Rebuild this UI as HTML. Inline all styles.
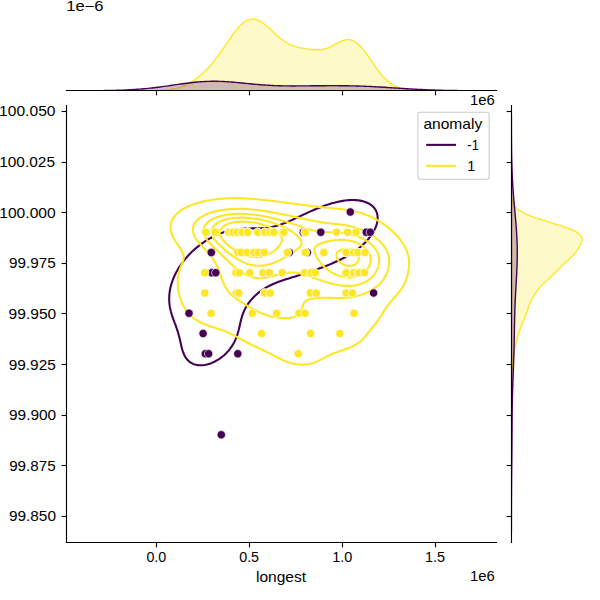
<!DOCTYPE html><html><head><meta charset="utf-8"><style>html,body{margin:0;padding:0;background:#fff;width:600px;height:600px;overflow:hidden}svg{display:block}text{font-family:"Liberation Sans",sans-serif;fill:#000}</style></head><body>
<svg width="600" height="600" viewBox="0 0 600 600">
<rect width="600" height="600" fill="#fff"/>
<clipPath id="cx"><rect x="66.28" y="15.00" width="429.80" height="75.25"/></clipPath>
<g clip-path="url(#cx)">
<path transform="translate(0.5 0.5)" d="M148.84 90.17L148.84 90.25L150.21 90.25L151.58 90.25L152.94 90.25L154.31 90.25L155.68 90.25L157.05 90.25L158.41 90.25L159.78 90.25L161.15 90.25L162.52 90.25L163.88 90.25L165.25 90.25L166.62 90.25L167.99 90.25L169.35 90.25L170.72 90.25L172.09 90.25L173.46 90.25L174.82 90.25L176.19 90.25L177.56 90.25L178.93 90.25L180.29 90.25L181.66 90.25L183.03 90.25L184.40 90.25L185.76 90.25L187.13 90.25L188.50 90.25L189.86 90.25L191.23 90.25L192.60 90.25L193.97 90.25L195.33 90.25L196.70 90.25L198.07 90.25L199.44 90.25L200.80 90.25L202.17 90.25L203.54 90.25L204.91 90.25L206.27 90.25L207.64 90.25L209.01 90.25L210.38 90.25L211.74 90.25L213.11 90.25L214.48 90.25L215.85 90.25L217.21 90.25L218.58 90.25L219.95 90.25L221.32 90.25L222.68 90.25L224.05 90.25L225.42 90.25L226.78 90.25L228.15 90.25L229.52 90.25L230.89 90.25L232.25 90.25L233.62 90.25L234.99 90.25L236.36 90.25L237.72 90.25L239.09 90.25L240.46 90.25L241.83 90.25L243.19 90.25L244.56 90.25L245.93 90.25L247.30 90.25L248.66 90.25L250.03 90.25L251.40 90.25L252.77 90.25L254.13 90.25L255.50 90.25L256.87 90.25L258.24 90.25L259.60 90.25L260.97 90.25L262.34 90.25L263.71 90.25L265.07 90.25L266.44 90.25L267.81 90.25L269.17 90.25L270.54 90.25L271.91 90.25L273.28 90.25L274.64 90.25L276.01 90.25L277.38 90.25L278.75 90.25L280.11 90.25L281.48 90.25L282.85 90.25L284.22 90.25L285.58 90.25L286.95 90.25L288.32 90.25L289.69 90.25L291.05 90.25L292.42 90.25L293.79 90.25L295.16 90.25L296.52 90.25L297.89 90.25L299.26 90.25L300.63 90.25L301.99 90.25L303.36 90.25L304.73 90.25L306.09 90.25L307.46 90.25L308.83 90.25L310.20 90.25L311.56 90.25L312.93 90.25L314.30 90.25L315.67 90.25L317.03 90.25L318.40 90.25L319.77 90.25L321.14 90.25L322.50 90.25L323.87 90.25L325.24 90.25L326.61 90.25L327.97 90.25L329.34 90.25L330.71 90.25L332.08 90.25L333.44 90.25L334.81 90.25L336.18 90.25L337.55 90.25L338.91 90.25L340.28 90.25L341.65 90.25L343.02 90.25L344.38 90.25L345.75 90.25L347.12 90.25L348.48 90.25L349.85 90.25L351.22 90.25L352.59 90.25L353.95 90.25L355.32 90.25L356.69 90.25L358.06 90.25L359.42 90.25L360.79 90.25L362.16 90.25L363.53 90.25L364.89 90.25L366.26 90.25L367.63 90.25L369.00 90.25L370.36 90.25L371.73 90.25L373.10 90.25L374.47 90.25L375.83 90.25L377.20 90.25L378.57 90.25L379.94 90.25L381.30 90.25L382.67 90.25L384.04 90.25L385.40 90.25L386.77 90.25L388.14 90.25L389.51 90.25L390.87 90.25L392.24 90.25L393.61 90.25L394.98 90.25L396.34 90.25L397.71 90.25L399.08 90.25L400.45 90.25L401.81 90.25L403.18 90.25L404.55 90.25L405.92 90.25L407.28 90.25L408.65 90.25L410.02 90.25L411.39 90.25L412.75 90.25L414.12 90.25L415.49 90.25L416.86 90.25L418.22 90.25L419.59 90.25L420.96 90.25L420.96 90.13L420.96 90.13L419.59 90.10L418.22 90.06L416.86 90.02L415.49 89.96L414.12 89.89L412.75 89.81L411.39 89.71L410.02 89.59L408.65 89.44L407.28 89.27L405.92 89.07L404.55 88.83L403.18 88.55L401.81 88.23L400.45 87.86L399.08 87.43L397.71 86.95L396.34 86.39L394.98 85.76L393.61 85.06L392.24 84.27L390.87 83.40L389.51 82.43L388.14 81.37L386.77 80.21L385.40 78.96L384.04 77.60L382.67 76.15L381.30 74.60L379.94 72.96L378.57 71.24L377.20 69.44L375.83 67.58L374.47 65.66L373.10 63.69L371.73 61.70L370.36 59.69L369.00 57.69L367.63 55.71L366.26 53.77L364.89 51.89L363.53 50.09L362.16 48.38L360.79 46.78L359.42 45.30L358.06 43.97L356.69 42.78L355.32 41.76L353.95 40.90L352.59 40.21L351.22 39.70L349.85 39.35L348.48 39.17L347.12 39.15L345.75 39.27L344.38 39.52L343.02 39.90L341.65 40.38L340.28 40.95L338.91 41.58L337.55 42.27L336.18 42.99L334.81 43.72L333.44 44.45L332.08 45.15L330.71 45.83L329.34 46.47L327.97 47.05L326.61 47.56L325.24 48.02L323.87 48.40L322.50 48.71L321.14 48.96L319.77 49.14L318.40 49.25L317.03 49.31L315.67 49.31L314.30 49.27L312.93 49.19L311.56 49.08L310.20 48.94L308.83 48.77L307.46 48.59L306.09 48.39L304.73 48.17L303.36 47.94L301.99 47.69L300.63 47.43L299.26 47.13L297.89 46.81L296.52 46.46L295.16 46.07L293.79 45.64L292.42 45.15L291.05 44.61L289.69 44.02L288.32 43.36L286.95 42.63L285.58 41.83L284.22 40.96L282.85 40.03L281.48 39.03L280.11 37.97L278.75 36.85L277.38 35.68L276.01 34.47L274.64 33.22L273.28 31.96L271.91 30.68L270.54 29.40L269.17 28.13L267.81 26.89L266.44 25.69L265.07 24.54L263.71 23.45L262.34 22.45L260.97 21.53L259.60 20.72L258.24 20.03L256.87 19.46L255.50 19.02L254.13 18.73L252.77 18.58L251.40 18.59L250.03 18.76L248.66 19.09L247.30 19.58L245.93 20.23L244.56 21.03L243.19 21.99L241.83 23.10L240.46 24.34L239.09 25.72L237.72 27.21L236.36 28.82L234.99 30.52L233.62 32.31L232.25 34.17L230.89 36.09L229.52 38.05L228.15 40.05L226.78 42.07L225.42 44.09L224.05 46.11L222.68 48.12L221.32 50.10L219.95 52.06L218.58 53.98L217.21 55.85L215.85 57.68L214.48 59.45L213.11 61.17L211.74 62.84L210.38 64.44L209.01 65.99L207.64 67.48L206.27 68.92L204.91 70.30L203.54 71.62L202.17 72.89L200.80 74.10L199.44 75.26L198.07 76.37L196.70 77.43L195.33 78.43L193.97 79.39L192.60 80.30L191.23 81.16L189.86 81.97L188.50 82.74L187.13 83.45L185.76 84.12L184.40 84.74L183.03 85.32L181.66 85.86L180.29 86.35L178.93 86.80L177.56 87.21L176.19 87.59L174.82 87.92L173.46 88.23L172.09 88.50L170.72 88.74L169.35 88.96L167.99 89.15L166.62 89.31L165.25 89.46L163.88 89.58L162.52 89.69L161.15 89.78L159.78 89.86L158.41 89.93L157.05 89.99L155.68 90.03L154.31 90.07L152.94 90.11L151.58 90.13L150.21 90.16L148.84 90.17Z" fill="#fde725" fill-opacity="0.250" stroke="#fde725" stroke-width="1.39" stroke-linejoin="round"/>
<path transform="translate(0.5 0.5)" d="M77.88 90.22L77.88 90.25L79.92 90.25L81.97 90.25L84.01 90.25L86.05 90.25L88.10 90.25L90.14 90.25L92.19 90.25L94.23 90.25L96.28 90.25L98.32 90.25L100.37 90.25L102.41 90.25L104.46 90.25L106.50 90.25L108.54 90.25L110.59 90.25L112.63 90.25L114.68 90.25L116.72 90.25L118.77 90.25L120.81 90.25L122.86 90.25L124.90 90.25L126.94 90.25L128.99 90.25L131.03 90.25L133.08 90.25L135.12 90.25L137.17 90.25L139.21 90.25L141.26 90.25L143.30 90.25L145.34 90.25L147.39 90.25L149.43 90.25L151.48 90.25L153.52 90.25L155.57 90.25L157.61 90.25L159.66 90.25L161.70 90.25L163.74 90.25L165.79 90.25L167.83 90.25L169.88 90.25L171.92 90.25L173.97 90.25L176.01 90.25L178.06 90.25L180.10 90.25L182.14 90.25L184.19 90.25L186.23 90.25L188.28 90.25L190.32 90.25L192.37 90.25L194.41 90.25L196.46 90.25L198.50 90.25L200.54 90.25L202.59 90.25L204.63 90.25L206.68 90.25L208.72 90.25L210.77 90.25L212.81 90.25L214.86 90.25L216.90 90.25L218.94 90.25L220.99 90.25L223.03 90.25L225.08 90.25L227.12 90.25L229.17 90.25L231.21 90.25L233.26 90.25L235.30 90.25L237.34 90.25L239.39 90.25L241.43 90.25L243.48 90.25L245.52 90.25L247.57 90.25L249.61 90.25L251.66 90.25L253.70 90.25L255.74 90.25L257.79 90.25L259.83 90.25L261.88 90.25L263.92 90.25L265.97 90.25L268.01 90.25L270.06 90.25L272.10 90.25L274.14 90.25L276.19 90.25L278.23 90.25L280.28 90.25L282.32 90.25L284.37 90.25L286.41 90.25L288.46 90.25L290.50 90.25L292.54 90.25L294.59 90.25L296.63 90.25L298.68 90.25L300.72 90.25L302.77 90.25L304.81 90.25L306.86 90.25L308.90 90.25L310.94 90.25L312.99 90.25L315.03 90.25L317.08 90.25L319.12 90.25L321.17 90.25L323.21 90.25L325.26 90.25L327.30 90.25L329.34 90.25L331.39 90.25L333.43 90.25L335.48 90.25L337.52 90.25L339.57 90.25L341.61 90.25L343.66 90.25L345.70 90.25L347.74 90.25L349.79 90.25L351.83 90.25L353.88 90.25L355.92 90.25L357.97 90.25L360.01 90.25L362.06 90.25L364.10 90.25L366.14 90.25L368.19 90.25L370.23 90.25L372.28 90.25L374.32 90.25L376.37 90.25L378.41 90.25L380.46 90.25L382.50 90.25L384.54 90.25L386.59 90.25L388.63 90.25L390.68 90.25L392.72 90.25L394.77 90.25L396.81 90.25L398.86 90.25L400.90 90.25L402.94 90.25L404.99 90.25L407.03 90.25L409.08 90.25L411.12 90.25L413.17 90.25L415.21 90.25L417.26 90.25L419.30 90.25L421.34 90.25L423.39 90.25L425.43 90.25L427.48 90.25L429.52 90.25L431.57 90.25L433.61 90.25L435.66 90.25L437.70 90.25L439.74 90.25L441.79 90.25L443.83 90.25L445.88 90.25L447.92 90.25L449.97 90.25L452.01 90.25L454.06 90.25L456.10 90.25L458.14 90.25L460.19 90.25L462.23 90.25L464.28 90.25L466.32 90.25L468.37 90.25L470.41 90.25L472.46 90.25L474.50 90.25L476.55 90.25L478.59 90.25L480.63 90.25L482.68 90.25L484.72 90.25L484.72 90.22L484.72 90.22L482.68 90.22L480.63 90.21L478.59 90.21L476.55 90.20L474.50 90.19L472.46 90.18L470.41 90.17L468.37 90.16L466.32 90.15L464.28 90.13L462.23 90.11L460.19 90.09L458.14 90.07L456.10 90.05L454.06 90.02L452.01 89.99L449.97 89.96L447.92 89.92L445.88 89.88L443.83 89.84L441.79 89.79L439.74 89.74L437.70 89.68L435.66 89.62L433.61 89.55L431.57 89.48L429.52 89.40L427.48 89.32L425.43 89.24L423.39 89.15L421.34 89.05L419.30 88.95L417.26 88.84L415.21 88.74L413.17 88.62L411.12 88.50L409.08 88.38L407.03 88.26L404.99 88.13L402.94 88.00L400.90 87.87L398.86 87.74L396.81 87.60L394.77 87.47L392.72 87.33L390.68 87.20L388.63 87.07L386.59 86.94L384.54 86.81L382.50 86.69L380.46 86.56L378.41 86.44L376.37 86.33L374.32 86.22L372.28 86.12L370.23 86.02L368.19 85.92L366.14 85.83L364.10 85.75L362.06 85.67L360.01 85.60L357.97 85.54L355.92 85.48L353.88 85.42L351.83 85.37L349.79 85.33L347.74 85.29L345.70 85.26L343.66 85.23L341.61 85.21L339.57 85.20L337.52 85.18L335.48 85.17L333.43 85.17L331.39 85.17L329.34 85.17L327.30 85.18L325.26 85.19L323.21 85.20L321.17 85.21L319.12 85.23L317.08 85.25L315.03 85.27L312.99 85.29L310.94 85.31L308.90 85.33L306.86 85.35L304.81 85.37L302.77 85.39L300.72 85.41L298.68 85.42L296.63 85.43L294.59 85.43L292.54 85.43L290.50 85.43L288.46 85.42L286.41 85.40L284.37 85.37L282.32 85.33L280.28 85.29L278.23 85.23L276.19 85.16L274.14 85.08L272.10 85.00L270.06 84.89L268.01 84.78L265.97 84.66L263.92 84.52L261.88 84.37L259.83 84.22L257.79 84.05L255.74 83.87L253.70 83.69L251.66 83.50L249.61 83.30L247.57 83.10L245.52 82.89L243.48 82.69L241.43 82.49L239.39 82.29L237.34 82.09L235.30 81.90L233.26 81.72L231.21 81.55L229.17 81.39L227.12 81.25L225.08 81.12L223.03 81.01L220.99 80.92L218.94 80.85L216.90 80.80L214.86 80.77L212.81 80.77L210.77 80.78L208.72 80.83L206.68 80.89L204.63 80.98L202.59 81.09L200.54 81.22L198.50 81.38L196.46 81.56L194.41 81.75L192.37 81.96L190.32 82.19L188.28 82.44L186.23 82.70L184.19 82.97L182.14 83.24L180.10 83.53L178.06 83.82L176.01 84.12L173.97 84.42L171.92 84.72L169.88 85.02L167.83 85.32L165.79 85.61L163.74 85.90L161.70 86.18L159.66 86.45L157.61 86.72L155.57 86.97L153.52 87.22L151.48 87.46L149.43 87.68L147.39 87.89L145.34 88.09L143.30 88.28L141.26 88.46L139.21 88.63L137.17 88.78L135.12 88.93L133.08 89.06L131.03 89.18L128.99 89.29L126.94 89.40L124.90 89.49L122.86 89.58L120.81 89.65L118.77 89.72L116.72 89.79L114.68 89.84L112.63 89.89L110.59 89.94L108.54 89.98L106.50 90.01L104.46 90.05L102.41 90.07L100.37 90.10L98.32 90.12L96.28 90.14L94.23 90.15L92.19 90.17L90.14 90.18L88.10 90.19L86.05 90.20L84.01 90.21L81.97 90.21L79.92 90.22L77.88 90.22Z" fill="#440154" fill-opacity="0.250" stroke="#440154" stroke-width="1.39" stroke-linejoin="round"/>
</g>
<clipPath id="cy"><rect x="510.90" y="105.30" width="74.10" height="436.43"/></clipPath>
<g clip-path="url(#cy)">
<path transform="translate(0.5 0.5)" d="M510.91 387.70L510.90 387.70L510.90 386.75L510.90 385.80L510.90 384.84L510.90 383.89L510.90 382.94L510.90 381.99L510.90 381.04L510.90 380.09L510.90 379.13L510.90 378.18L510.90 377.23L510.90 376.28L510.90 375.33L510.90 374.38L510.90 373.42L510.90 372.47L510.90 371.52L510.90 370.57L510.90 369.62L510.90 368.66L510.90 367.71L510.90 366.76L510.90 365.81L510.90 364.86L510.90 363.91L510.90 362.95L510.90 362.00L510.90 361.05L510.90 360.10L510.90 359.15L510.90 358.20L510.90 357.24L510.90 356.29L510.90 355.34L510.90 354.39L510.90 353.44L510.90 352.48L510.90 351.53L510.90 350.58L510.90 349.63L510.90 348.68L510.90 347.73L510.90 346.77L510.90 345.82L510.90 344.87L510.90 343.92L510.90 342.97L510.90 342.02L510.90 341.06L510.90 340.11L510.90 339.16L510.90 338.21L510.90 337.26L510.90 336.30L510.90 335.35L510.90 334.40L510.90 333.45L510.90 332.50L510.90 331.55L510.90 330.59L510.90 329.64L510.90 328.69L510.90 327.74L510.90 326.79L510.90 325.84L510.90 324.88L510.90 323.93L510.90 322.98L510.90 322.03L510.90 321.08L510.90 320.13L510.90 319.17L510.90 318.22L510.90 317.27L510.90 316.32L510.90 315.37L510.90 314.41L510.90 313.46L510.90 312.51L510.90 311.56L510.90 310.61L510.90 309.66L510.90 308.70L510.90 307.75L510.90 306.80L510.90 305.85L510.90 304.90L510.90 303.95L510.90 302.99L510.90 302.04L510.90 301.09L510.90 300.14L510.90 299.19L510.90 298.23L510.90 297.28L510.90 296.33L510.90 295.38L510.90 294.43L510.90 293.48L510.90 292.52L510.90 291.57L510.90 290.62L510.90 289.67L510.90 288.72L510.90 287.77L510.90 286.81L510.90 285.86L510.90 284.91L510.90 283.96L510.90 283.01L510.90 282.05L510.90 281.10L510.90 280.15L510.90 279.20L510.90 278.25L510.90 277.30L510.90 276.34L510.90 275.39L510.90 274.44L510.90 273.49L510.90 272.54L510.90 271.59L510.90 270.63L510.90 269.68L510.90 268.73L510.90 267.78L510.90 266.83L510.90 265.87L510.90 264.92L510.90 263.97L510.90 263.02L510.90 262.07L510.90 261.12L510.90 260.16L510.90 259.21L510.90 258.26L510.90 257.31L510.90 256.36L510.90 255.41L510.90 254.45L510.90 253.50L510.90 252.55L510.90 251.60L510.90 250.65L510.90 249.70L510.90 248.74L510.90 247.79L510.90 246.84L510.90 245.89L510.90 244.94L510.90 243.98L510.90 243.03L510.90 242.08L510.90 241.13L510.90 240.18L510.90 239.23L510.90 238.27L510.90 237.32L510.90 236.37L510.90 235.42L510.90 234.47L510.90 233.52L510.90 232.56L510.90 231.61L510.90 230.66L510.90 229.71L510.90 228.76L510.90 227.80L510.90 226.85L510.90 225.90L510.90 224.95L510.90 224.00L510.90 223.05L510.90 222.09L510.90 221.14L510.90 220.19L510.90 219.24L510.90 218.29L510.90 217.34L510.90 216.38L510.90 215.43L510.90 214.48L510.90 213.53L510.90 212.58L510.90 211.62L510.90 210.67L510.90 209.72L510.90 208.77L510.90 207.82L510.90 206.87L510.90 205.91L510.90 204.96L510.90 204.01L510.90 203.06L510.90 202.11L510.90 201.16L510.90 200.20L510.90 199.25L510.90 198.30L511.53 198.30L511.53 198.30L511.71 199.25L511.93 200.20L512.20 201.16L512.54 202.11L512.94 203.06L513.43 204.01L514.01 204.96L514.70 205.91L515.51 206.87L516.44 207.82L517.53 208.77L518.77 209.72L520.18 210.67L521.77 211.62L523.54 212.58L525.49 213.53L527.63 214.48L529.96 215.43L532.46 216.38L535.12 217.34L537.93 218.29L540.87 219.24L543.91 220.19L547.01 221.14L550.16 222.09L553.30 223.05L556.42 224.00L559.46 224.95L562.39 225.90L565.19 226.85L567.81 227.80L570.23 228.76L572.43 229.71L574.39 230.66L576.10 231.61L577.56 232.56L578.77 233.52L579.73 234.47L580.46 235.42L580.98 236.37L581.31 237.32L581.46 238.27L581.47 239.23L581.36 240.18L581.14 241.13L580.84 242.08L580.48 243.03L580.06 243.98L579.60 244.94L579.11 245.89L578.58 246.84L578.03 247.79L577.43 248.74L576.80 249.70L576.13 250.65L575.41 251.60L574.65 252.55L573.84 253.50L572.98 254.45L572.07 255.41L571.12 256.36L570.14 257.31L569.13 258.26L568.10 259.21L567.05 260.16L566.01 261.12L564.96 262.07L563.93 263.02L562.92 263.97L561.92 264.92L560.94 265.87L559.98 266.83L559.03 267.78L558.10 268.73L557.17 269.68L556.24 270.63L555.30 271.59L554.36 272.54L553.39 273.49L552.42 274.44L551.42 275.39L550.41 276.34L549.39 277.30L548.35 278.25L547.31 279.20L546.27 280.15L545.23 281.10L544.21 282.05L543.21 283.01L542.23 283.96L541.29 284.91L540.37 285.86L539.50 286.81L538.66 287.77L537.86 288.72L537.10 289.67L536.38 290.62L535.69 291.57L535.03 292.52L534.41 293.48L533.81 294.43L533.23 295.38L532.68 296.33L532.16 297.28L531.65 298.23L531.16 299.19L530.70 300.14L530.26 301.09L529.83 302.04L529.42 302.99L529.04 303.95L528.67 304.90L528.31 305.85L527.97 306.80L527.63 307.75L527.30 308.70L526.98 309.66L526.66 310.61L526.33 311.56L526.00 312.51L525.66 313.46L525.31 314.41L524.95 315.37L524.59 316.32L524.21 317.27L523.82 318.22L523.43 319.17L523.03 320.13L522.62 321.08L522.22 322.03L521.82 322.98L521.43 323.93L521.04 324.88L520.66 325.84L520.29 326.79L519.93 327.74L519.59 328.69L519.25 329.64L518.93 330.59L518.62 331.55L518.32 332.50L518.03 333.45L517.74 334.40L517.47 335.35L517.20 336.30L516.93 337.26L516.67 338.21L516.42 339.16L516.17 340.11L515.93 341.06L515.69 342.02L515.46 342.97L515.24 343.92L515.03 344.87L514.82 345.82L514.62 346.77L514.43 347.73L514.24 348.68L514.07 349.63L513.90 350.58L513.73 351.53L513.58 352.48L513.43 353.44L513.28 354.39L513.15 355.34L513.01 356.29L512.88 357.24L512.75 358.20L512.62 359.15L512.50 360.10L512.38 361.05L512.27 362.00L512.16 362.95L512.05 363.91L511.95 364.86L511.85 365.81L511.75 366.76L511.66 367.71L511.58 368.66L511.50 369.62L511.43 370.57L511.36 371.52L511.30 372.47L511.25 373.42L511.20 374.38L511.15 375.33L511.11 376.28L511.08 377.23L511.05 378.18L511.02 379.13L511.00 380.09L510.98 381.04L510.97 381.99L510.95 382.94L510.94 383.89L510.93 384.84L510.92 385.80L510.92 386.75L510.91 387.70Z" fill="#fde725" fill-opacity="0.250" stroke="#fde725" stroke-width="1.39" stroke-linejoin="round"/>
<path transform="translate(0.5 0.5)" d="M510.90 531.63L510.90 531.63L510.90 529.53L510.90 527.44L510.90 525.35L510.90 523.25L510.90 521.16L510.90 519.07L510.90 516.97L510.90 514.88L510.90 512.79L510.90 510.70L510.90 508.60L510.90 506.51L510.90 504.42L510.90 502.32L510.90 500.23L510.90 498.14L510.90 496.05L510.90 493.95L510.90 491.86L510.90 489.77L510.90 487.67L510.90 485.58L510.90 483.49L510.90 481.39L510.90 479.30L510.90 477.21L510.90 475.12L510.90 473.02L510.90 470.93L510.90 468.84L510.90 466.74L510.90 464.65L510.90 462.56L510.90 460.46L510.90 458.37L510.90 456.28L510.90 454.19L510.90 452.09L510.90 450.00L510.90 447.91L510.90 445.81L510.90 443.72L510.90 441.63L510.90 439.53L510.90 437.44L510.90 435.35L510.90 433.26L510.90 431.16L510.90 429.07L510.90 426.98L510.90 424.88L510.90 422.79L510.90 420.70L510.90 418.61L510.90 416.51L510.90 414.42L510.90 412.33L510.90 410.23L510.90 408.14L510.90 406.05L510.90 403.95L510.90 401.86L510.90 399.77L510.90 397.68L510.90 395.58L510.90 393.49L510.90 391.40L510.90 389.30L510.90 387.21L510.90 385.12L510.90 383.02L510.90 380.93L510.90 378.84L510.90 376.75L510.90 374.65L510.90 372.56L510.90 370.47L510.90 368.37L510.90 366.28L510.90 364.19L510.90 362.09L510.90 360.00L510.90 357.91L510.90 355.82L510.90 353.72L510.90 351.63L510.90 349.54L510.90 347.44L510.90 345.35L510.90 343.26L510.90 341.17L510.90 339.07L510.90 336.98L510.90 334.89L510.90 332.79L510.90 330.70L510.90 328.61L510.90 326.51L510.90 324.42L510.90 322.33L510.90 320.24L510.90 318.14L510.90 316.05L510.90 313.96L510.90 311.86L510.90 309.77L510.90 307.68L510.90 305.58L510.90 303.49L510.90 301.40L510.90 299.31L510.90 297.21L510.90 295.12L510.90 293.03L510.90 290.93L510.90 288.84L510.90 286.75L510.90 284.66L510.90 282.56L510.90 280.47L510.90 278.38L510.90 276.28L510.90 274.19L510.90 272.10L510.90 270.00L510.90 267.91L510.90 265.82L510.90 263.73L510.90 261.63L510.90 259.54L510.90 257.45L510.90 255.35L510.90 253.26L510.90 251.17L510.90 249.07L510.90 246.98L510.90 244.89L510.90 242.80L510.90 240.70L510.90 238.61L510.90 236.52L510.90 234.42L510.90 232.33L510.90 230.24L510.90 228.14L510.90 226.05L510.90 223.96L510.90 221.87L510.90 219.77L510.90 217.68L510.90 215.59L510.90 213.49L510.90 211.40L510.90 209.31L510.90 207.22L510.90 205.12L510.90 203.03L510.90 200.94L510.90 198.84L510.90 196.75L510.90 194.66L510.90 192.56L510.90 190.47L510.90 188.38L510.90 186.29L510.90 184.19L510.90 182.10L510.90 180.01L510.90 177.91L510.90 175.82L510.90 173.73L510.90 171.63L510.90 169.54L510.90 167.45L510.90 165.36L510.90 163.26L510.90 161.17L510.90 159.08L510.90 156.98L510.90 154.89L510.90 152.80L510.90 150.70L510.90 148.61L510.90 146.52L510.90 144.43L510.90 142.33L510.90 140.24L510.90 138.15L510.90 136.05L510.90 133.96L510.90 131.87L510.90 129.78L510.90 127.68L510.90 125.59L510.90 123.50L510.90 121.40L510.90 119.31L510.90 117.22L510.90 115.12L510.91 115.12L510.91 115.12L510.91 117.22L510.91 119.31L510.91 121.40L510.92 123.50L510.92 125.59L510.93 127.68L510.93 129.78L510.94 131.87L510.95 133.96L510.96 136.05L510.97 138.15L510.99 140.24L511.00 142.33L511.02 144.43L511.04 146.52L511.06 148.61L511.09 150.70L511.12 152.80L511.16 154.89L511.20 156.98L511.24 159.08L511.29 161.17L511.34 163.26L511.40 165.36L511.47 167.45L511.54 169.54L511.62 171.63L511.71 173.73L511.80 175.82L511.90 177.91L512.01 180.01L512.13 182.10L512.25 184.19L512.38 186.29L512.52 188.38L512.67 190.47L512.82 192.56L512.98 194.66L513.15 196.75L513.32 198.84L513.50 200.94L513.68 203.03L513.87 205.12L514.05 207.22L514.24 209.31L514.43 211.40L514.62 213.49L514.81 215.59L515.00 217.68L515.18 219.77L515.36 221.87L515.53 223.96L515.69 226.05L515.84 228.14L515.99 230.24L516.12 232.33L516.25 234.42L516.36 236.52L516.46 238.61L516.54 240.70L516.62 242.80L516.67 244.89L516.72 246.98L516.75 249.07L516.76 251.17L516.76 253.26L516.75 255.35L516.73 257.45L516.69 259.54L516.64 261.63L516.58 263.73L516.50 265.82L516.42 267.91L516.33 270.00L516.24 272.10L516.13 274.19L516.02 276.28L515.91 278.38L515.79 280.47L515.68 282.56L515.56 284.66L515.44 286.75L515.32 288.84L515.21 290.93L515.10 293.03L514.99 295.12L514.88 297.21L514.78 299.31L514.69 301.40L514.60 303.49L514.51 305.58L514.44 307.68L514.36 309.77L514.30 311.86L514.24 313.96L514.18 316.05L514.13 318.14L514.08 320.24L514.04 322.33L514.00 324.42L513.96 326.51L513.92 328.61L513.89 330.70L513.85 332.79L513.82 334.89L513.78 336.98L513.74 339.07L513.70 341.17L513.66 343.26L513.62 345.35L513.57 347.44L513.52 349.54L513.46 351.63L513.40 353.72L513.34 355.82L513.28 357.91L513.21 360.00L513.13 362.09L513.06 364.19L512.98 366.28L512.91 368.37L512.83 370.47L512.75 372.56L512.66 374.65L512.58 376.75L512.51 378.84L512.43 380.93L512.35 383.02L512.28 385.12L512.21 387.21L512.14 389.30L512.08 391.40L512.02 393.49L511.96 395.58L511.91 397.68L511.87 399.77L511.82 401.86L511.78 403.95L511.75 406.05L511.72 408.14L511.69 410.23L511.66 412.33L511.64 414.42L511.62 416.51L511.61 418.61L511.59 420.70L511.58 422.79L511.56 424.88L511.55 426.98L511.54 429.07L511.53 431.16L511.52 433.26L511.51 435.35L511.49 437.44L511.48 439.53L511.47 441.63L511.45 443.72L511.43 445.81L511.42 447.91L511.40 450.00L511.38 452.09L511.36 454.19L511.34 456.28L511.32 458.37L511.30 460.46L511.27 462.56L511.25 464.65L511.23 466.74L511.21 468.84L511.19 470.93L511.17 473.02L511.14 475.12L511.12 477.21L511.11 479.30L511.09 481.39L511.07 483.49L511.05 485.58L511.04 487.67L511.02 489.77L511.01 491.86L511.00 493.95L510.99 496.05L510.98 498.14L510.97 500.23L510.96 502.32L510.95 504.42L510.94 506.51L510.94 508.60L510.93 510.70L510.93 512.79L510.92 514.88L510.92 516.97L510.91 519.07L510.91 521.16L510.91 523.25L510.91 525.35L510.91 527.44L510.90 529.53L510.90 531.63Z" fill="#440154" fill-opacity="0.250" stroke="#440154" stroke-width="1.39" stroke-linejoin="round"/>
</g>
<clipPath id="cj"><rect x="66.28" y="105.30" width="429.80" height="436.43"/></clipPath>
<g clip-path="url(#cj)">
<path d="M193.84 364.13L195.99 364.75L198.15 365.11L200.31 365.24L202.47 365.17L204.63 364.91L206.79 364.49L208.83 363.95L208.95 363.92L211.11 363.16L213.27 362.26L214.33 361.76L215.43 361.20L217.59 359.98L218.26 359.57L219.75 358.58L221.42 357.37L221.91 357.00L224.07 355.21L224.11 355.18L226.23 353.16L226.40 352.99L228.39 350.83L228.42 350.79L230.18 348.60L230.55 348.09L231.73 346.41L232.71 344.87L233.11 344.21L234.32 342.02L234.87 340.89L235.37 339.83L236.29 337.63L237.03 335.67L237.11 335.44L237.81 333.25L238.43 331.05L238.99 328.86L239.19 328.01L239.50 326.67L239.99 324.47L240.48 322.28L241.01 320.08L241.35 318.83L241.59 317.89L242.25 315.70L243.02 313.50L243.51 312.30L243.90 311.31L244.93 309.12L245.67 307.74L246.11 306.92L247.45 304.73L247.83 304.19L248.98 302.54L249.99 301.25L250.70 300.34L252.15 298.70L252.63 298.15L254.30 296.45L254.81 295.96L256.46 294.45L257.25 293.76L258.62 292.65L260.02 291.57L260.78 291.01L262.94 289.53L263.17 289.38L265.10 288.18L266.82 287.18L267.26 286.94L269.42 285.81L271.11 284.99L271.58 284.77L273.74 283.81L275.90 282.91L276.18 282.80L278.06 282.07L280.22 281.28L282.13 280.60L282.38 280.52L284.54 279.79L286.70 279.09L288.85 278.41L288.86 278.41L291.02 277.73L293.18 277.07L295.34 276.40L295.92 276.22L297.50 275.73L299.66 275.07L301.82 274.39L302.97 274.02L303.98 273.71L306.14 273.02L308.30 272.31L309.74 271.83L310.45 271.60L312.61 270.87L314.77 270.12L316.15 269.64L316.93 269.36L319.09 268.59L321.25 267.79L322.17 267.44L323.41 266.97L325.57 266.14L327.73 265.28L327.79 265.25L329.89 264.39L332.05 263.48L333.01 263.06L334.21 262.53L336.37 261.55L337.85 260.86L338.53 260.54L340.69 259.48L342.29 258.67L342.85 258.38L345.01 257.23L346.37 256.48L347.17 256.02L349.33 254.75L350.09 254.28L351.49 253.40L353.49 252.09L353.65 251.98L355.81 250.47L356.59 249.90L357.97 248.85L359.42 247.70L360.13 247.12L362.00 245.51L362.29 245.25L364.35 243.32L364.45 243.22L366.48 241.12L366.61 240.99L368.42 238.93L368.76 238.50L370.16 236.74L370.92 235.68L371.73 234.54L373.08 232.40L373.12 232.35L374.33 230.16L375.24 228.21L375.36 227.96L376.21 225.77L376.88 223.58L377.35 221.38L377.40 220.92L377.60 219.19L377.62 217.00L377.40 215.04L377.38 214.80L376.81 212.61L375.89 210.42L375.24 209.34L374.49 208.22L373.08 206.64L372.46 206.03L370.92 204.82L369.43 203.84L368.76 203.47L366.61 202.45L364.45 201.65L364.42 201.64L362.29 201.07L360.13 200.64L357.97 200.33L355.81 200.14L353.65 200.06L351.49 200.07L349.33 200.16L347.17 200.33L345.01 200.57L342.85 200.88L340.69 201.25L338.72 201.64L338.53 201.68L336.37 202.17L334.21 202.71L332.05 203.30L330.25 203.84L329.89 203.94L327.73 204.63L325.57 205.35L323.67 206.03L323.41 206.12L321.25 206.93L319.09 207.77L317.96 208.22L316.93 208.64L314.77 209.54L312.73 210.42L312.61 210.47L310.45 211.42L308.30 212.39L307.82 212.61L306.14 213.39L303.98 214.39L303.08 214.80L301.82 215.40L299.66 216.41L298.40 217.00L297.50 217.42L295.34 218.43L293.67 219.19L293.18 219.42L291.02 220.39L288.86 221.33L288.73 221.38L286.70 222.24L284.54 223.11L283.29 223.58L282.38 223.93L280.22 224.69L278.06 225.38L276.70 225.77L275.90 226.01L273.74 226.56L271.58 227.03L269.42 227.42L267.26 227.74L265.22 227.96L265.10 227.98L262.94 228.15L260.78 228.27L258.62 228.34L256.46 228.38L254.30 228.40L252.15 228.41L249.99 228.42L247.83 228.45L245.67 228.51L243.51 228.61L241.35 228.76L239.19 228.95L237.03 229.21L234.87 229.52L232.71 229.90L231.51 230.16L230.55 230.36L228.39 230.88L226.23 231.47L224.07 232.13L223.44 232.35L221.91 232.87L219.75 233.69L217.68 234.54L217.59 234.58L215.43 235.55L213.27 236.60L213.00 236.74L211.11 237.73L208.97 238.93L208.95 238.94L206.79 240.24L205.40 241.12L204.63 241.62L202.47 243.10L202.17 243.32L200.31 244.68L199.23 245.51L198.15 246.35L196.51 247.70L195.99 248.14L193.99 249.90L193.84 250.04L191.68 252.06L191.65 252.09L189.52 254.23L189.47 254.28L187.43 256.48L187.36 256.56L185.53 258.67L185.20 259.07L183.75 260.86L183.04 261.79L182.09 263.06L180.88 264.76L180.53 265.25L179.09 267.44L178.72 268.05L177.75 269.64L176.56 271.75L176.51 271.83L175.38 274.02L174.40 276.08L174.33 276.22L173.39 278.41L172.54 280.60L172.24 281.47L171.78 282.80L171.12 284.99L170.55 287.18L170.08 289.38L170.08 289.38L169.71 291.57L169.43 293.76L169.26 295.96L169.18 298.15L169.20 300.34L169.33 302.54L169.56 304.73L169.88 306.92L170.08 307.99L170.31 309.12L170.83 311.31L171.44 313.50L172.11 315.70L172.24 316.10L172.86 317.89L173.66 320.08L174.40 322.11L174.46 322.28L175.30 324.47L176.10 326.67L176.56 327.99L176.87 328.86L177.60 331.05L178.26 333.25L178.72 334.91L178.87 335.44L179.43 337.63L179.95 339.83L180.44 342.02L180.88 344.04L180.92 344.21L181.44 346.41L182.00 348.60L182.64 350.79L183.04 351.96L183.41 352.99L184.38 355.18L185.20 356.71L185.60 357.37L187.21 359.57L187.36 359.73L189.51 361.76L189.52 361.76L191.68 363.14L193.39 363.95Z" fill="none" stroke="#440154" stroke-width="2.08" stroke-linejoin="round"/>
<path d="M297.33 364.32L298.79 364.48L300.26 364.58L301.72 364.63L303.18 364.62L304.64 364.56L306.10 364.44L307.57 364.26L308.17 364.16L309.03 364.02L310.49 363.71L311.95 363.34L312.58 363.15L313.42 362.90L314.88 362.39L315.50 362.14L316.34 361.81L317.80 361.17L317.87 361.13L319.27 360.47L319.94 360.12L320.73 359.72L321.87 359.11L322.19 358.94L323.65 358.15L323.74 358.11L325.12 357.37L325.62 357.10L326.58 356.60L327.58 356.09L328.04 355.86L329.50 355.16L329.68 355.08L330.97 354.50L331.96 354.07L332.43 353.88L333.89 353.29L334.47 353.06L335.35 352.73L336.82 352.20L337.22 352.05L338.28 351.68L339.74 351.18L340.15 351.04L341.20 350.69L342.67 350.19L343.14 350.03L344.13 349.69L345.59 349.18L346.03 349.02L347.05 348.65L348.51 348.09L348.72 348.01L349.98 347.51L351.15 347.00L351.44 346.87L352.90 346.19L353.30 345.99L354.36 345.44L355.20 344.98L355.83 344.62L356.88 343.97L357.29 343.71L358.38 342.96L358.75 342.70L359.72 341.96L360.21 341.56L360.94 340.95L361.68 340.28L362.04 339.94L363.06 338.93L363.14 338.84L364.01 337.92L364.60 337.24L364.90 336.91L365.74 335.90L366.06 335.50L366.56 334.89L367.36 333.88L367.53 333.67L368.15 332.87L368.93 331.86L368.99 331.78L369.72 330.85L370.45 329.91L370.51 329.84L371.31 328.83L371.91 328.07L372.11 327.82L372.92 326.81L373.38 326.24L373.73 325.81L374.53 324.80L374.84 324.41L375.33 323.79L376.11 322.78L376.30 322.52L376.87 321.77L377.62 320.76L377.76 320.56L378.34 319.75L379.04 318.74L379.23 318.47L379.73 317.73L380.39 316.72L380.69 316.26L381.04 315.71L381.68 314.70L382.15 313.94L382.31 313.69L382.94 312.68L383.56 311.67L383.61 311.60L384.21 310.66L384.86 309.65L385.07 309.33L385.53 308.65L386.22 307.64L386.54 307.19L386.94 306.63L387.68 305.62L388.00 305.19L388.45 304.61L389.24 303.60L389.46 303.32L390.07 302.59L390.90 301.58L390.92 301.55L391.78 300.57L392.39 299.86L392.65 299.56L393.54 298.55L393.85 298.20L394.44 297.54L395.31 296.53L395.31 296.53L396.20 295.52L396.77 294.84L397.06 294.51L397.90 293.50L398.24 293.08L398.72 292.50L399.50 291.49L399.70 291.21L400.26 290.48L400.97 289.47L401.16 289.17L401.65 288.46L402.30 287.45L402.62 286.89L402.90 286.44L403.48 285.43L404.00 284.42L404.09 284.24L404.51 283.41L404.98 282.40L405.41 281.39L405.55 281.03L405.82 280.38L406.20 279.37L406.55 278.36L406.87 277.35L407.01 276.85L407.17 276.35L407.46 275.34L407.71 274.33L407.95 273.32L408.16 272.31L408.34 271.30L408.47 270.48L408.51 270.29L408.67 269.28L408.81 268.27L408.92 267.26L409.01 266.25L409.07 265.24L409.11 264.23L409.12 263.22L409.11 262.21L409.06 261.20L408.99 260.19L408.89 259.19L408.75 258.18L408.58 257.17L408.47 256.67L408.38 256.16L408.16 255.15L407.90 254.14L407.60 253.13L407.25 252.12L407.01 251.50L406.88 251.11L406.48 250.10L406.04 249.09L405.55 248.10L405.54 248.08L405.05 247.07L404.49 246.06L404.09 245.39L403.90 245.05L403.29 244.04L402.62 243.05L402.61 243.04L401.94 242.03L401.20 241.02L401.16 240.97L400.46 240.01L399.70 239.07L399.64 239.00L398.83 237.99L398.24 237.30L397.96 236.98L397.07 235.97L396.77 235.65L396.15 234.96L395.31 234.10L395.17 233.95L394.18 232.94L393.85 232.62L393.15 231.93L392.39 231.22L392.07 230.92L390.94 229.91L390.92 229.90L389.80 228.90L389.46 228.62L388.61 227.89L388.00 227.40L387.36 226.89L386.54 226.24L386.06 225.88L385.07 225.14L384.70 224.87L383.61 224.09L383.28 223.86L382.15 223.08L381.79 222.85L380.69 222.13L380.23 221.84L379.23 221.21L378.58 220.83L377.76 220.35L376.82 219.82L376.30 219.53L374.94 218.81L374.84 218.75L373.38 218.01L372.95 217.80L371.91 217.30L370.78 216.79L370.45 216.64L368.99 216.00L368.44 215.78L367.53 215.40L366.06 214.85L365.85 214.77L364.60 214.31L363.14 213.81L362.98 213.76L361.68 213.33L360.21 212.89L359.73 212.75L358.75 212.47L357.29 212.07L355.95 211.74L355.83 211.71L354.36 211.36L352.90 211.03L351.44 210.74L351.39 210.73L349.98 210.45L348.51 210.19L347.05 209.95L345.59 209.73L345.55 209.73L344.13 209.51L342.67 209.31L341.20 209.12L339.74 208.95L338.28 208.80L337.49 208.72L336.82 208.64L335.35 208.49L333.89 208.34L332.43 208.20L330.97 208.06L329.50 207.93L328.04 207.79L327.07 207.71L326.58 207.66L325.12 207.51L323.65 207.36L322.19 207.21L320.73 207.06L319.27 206.90L317.80 206.75L317.37 206.70L316.34 206.57L314.88 206.40L313.42 206.22L311.95 206.04L310.49 205.86L309.06 205.69L309.03 205.68L307.57 205.49L306.10 205.29L304.64 205.10L303.18 204.91L301.72 204.73L301.30 204.68L300.26 204.53L298.79 204.34L297.33 204.14L295.87 203.96L294.41 203.77L293.56 203.67L292.94 203.58L291.48 203.39L290.02 203.20L288.56 203.01L287.09 202.83L285.71 202.66L285.63 202.65L284.17 202.45L282.71 202.26L281.24 202.07L279.78 201.89L278.32 201.72L277.77 201.65L276.86 201.53L275.39 201.34L273.93 201.15L272.47 200.97L271.01 200.80L269.57 200.64L269.54 200.64L268.08 200.45L266.62 200.28L265.16 200.11L263.70 199.95L262.23 199.79L260.77 199.65L260.58 199.63L259.31 199.49L257.85 199.34L256.38 199.20L254.92 199.07L253.46 198.95L252.00 198.84L250.53 198.73L249.07 198.64L248.75 198.62L247.61 198.54L246.15 198.46L244.68 198.38L243.22 198.31L241.76 198.25L240.30 198.21L238.83 198.17L237.37 198.15L235.91 198.14L234.45 198.14L232.98 198.15L231.52 198.17L230.06 198.21L228.60 198.26L227.13 198.32L225.67 198.40L224.21 198.49L222.75 198.60L222.52 198.62L221.29 198.71L219.82 198.84L218.36 198.98L216.90 199.14L215.44 199.32L213.97 199.52L213.24 199.63L212.51 199.73L211.05 199.95L209.59 200.19L208.12 200.46L207.23 200.64L206.66 200.75L205.20 201.04L203.74 201.36L202.55 201.65L202.27 201.71L200.81 202.07L199.35 202.46L198.67 202.66L197.89 202.88L196.42 203.31L195.35 203.67L194.96 203.79L193.50 204.29L192.45 204.68L192.04 204.83L190.57 205.40L189.88 205.69L189.11 206.01L187.65 206.67L187.60 206.70L186.19 207.37L185.54 207.71L184.73 208.13L183.69 208.72L183.26 208.96L182.03 209.73L181.80 209.87L180.52 210.73L180.34 210.87L179.16 211.74L178.88 211.97L177.92 212.75L177.41 213.21L176.81 213.76L175.95 214.64L175.82 214.77L174.92 215.78L174.49 216.34L174.13 216.79L173.42 217.80L173.03 218.45L172.80 218.81L172.26 219.82L171.80 220.83L171.56 221.48L171.42 221.84L171.09 222.85L170.85 223.86L170.67 224.87L170.55 225.88L170.50 226.89L170.50 227.89L170.57 228.90L170.69 229.91L170.87 230.92L171.10 231.93L171.40 232.94L171.56 233.41L171.74 233.95L172.11 234.96L172.55 235.97L173.03 236.94L173.04 236.98L173.55 237.99L174.11 239.00L174.49 239.62L174.71 240.01L175.33 241.02L175.95 241.94L176.01 242.03L176.67 243.04L177.38 244.04L177.41 244.09L178.06 245.05L178.78 246.06L178.88 246.20L179.46 247.07L180.14 248.08L180.34 248.38L180.78 249.09L181.39 250.10L181.80 250.83L181.95 251.11L182.43 252.12L182.86 253.13L183.21 254.14L183.26 254.34L183.46 255.15L183.61 256.16L183.67 257.17L183.63 258.18L183.51 259.19L183.30 260.19L183.26 260.33L183.01 261.20L182.66 262.21L182.27 263.22L181.87 264.23L181.80 264.39L181.43 265.24L181.01 266.25L180.60 267.26L180.34 267.95L180.21 268.27L179.84 269.28L179.50 270.29L179.20 271.30L178.94 272.31L178.88 272.57L178.69 273.32L178.48 274.33L178.30 275.34L178.15 276.35L178.03 277.35L177.93 278.36L177.86 279.37L177.81 280.38L177.78 281.39L177.77 282.40L177.78 283.41L177.81 284.42L177.86 285.43L177.93 286.44L178.02 287.45L178.13 288.46L178.26 289.47L178.42 290.48L178.59 291.49L178.78 292.50L178.88 292.92L179.00 293.50L179.23 294.51L179.48 295.52L179.75 296.53L180.06 297.54L180.34 298.42L180.38 298.55L180.72 299.56L181.08 300.57L181.47 301.58L181.80 302.36L181.89 302.59L182.33 303.60L182.80 304.61L183.26 305.53L183.31 305.62L183.84 306.63L184.41 307.64L184.73 308.16L185.02 308.65L185.67 309.65L186.19 310.39L186.38 310.66L187.13 311.67L187.65 312.31L187.95 312.68L188.84 313.69L189.11 313.99L189.79 314.70L190.57 315.47L190.83 315.71L191.96 316.72L192.04 316.79L193.19 317.73L193.50 317.97L194.53 318.74L194.96 319.04L196.01 319.75L196.42 320.02L197.64 320.76L197.89 320.91L199.35 321.72L199.43 321.77L200.81 322.48L201.43 322.78L202.27 323.18L203.65 323.79L203.74 323.83L205.20 324.44L206.11 324.80L206.66 325.01L208.12 325.55L208.84 325.81L209.59 326.07L211.05 326.57L211.80 326.81L212.51 327.05L213.97 327.52L214.92 327.82L215.44 327.99L216.90 328.46L218.05 328.83L218.36 328.93L219.82 329.42L221.06 329.84L221.29 329.92L222.75 330.45L223.85 330.85L224.21 330.99L225.67 331.56L226.41 331.86L227.13 332.16L228.60 332.79L228.77 332.87L230.06 333.46L230.94 333.88L231.52 334.16L232.98 334.88L233.00 334.89L234.45 335.64L234.94 335.90L235.91 336.42L236.83 336.91L237.37 337.21L238.68 337.92L238.83 338.00L240.30 338.81L240.51 338.93L241.76 339.62L242.34 339.94L243.22 340.42L244.20 340.95L244.68 341.21L246.10 341.96L246.15 341.98L247.61 342.74L248.05 342.96L249.07 343.49L250.05 343.97L250.53 344.22L252.00 344.93L252.10 344.98L253.46 345.64L254.21 345.99L254.92 346.33L256.36 347.00L256.38 347.02L257.85 347.70L258.52 348.01L259.31 348.38L260.69 349.02L260.77 349.06L262.23 349.75L262.83 350.03L263.70 350.45L264.93 351.04L265.16 351.15L266.62 351.88L266.97 352.05L268.08 352.61L268.96 353.06L269.54 353.36L270.91 354.07L271.01 354.12L272.47 354.89L272.82 355.08L273.93 355.67L274.72 356.09L275.39 356.45L276.64 357.10L276.86 357.21L278.32 357.96L278.60 358.11L279.78 358.69L280.65 359.11L281.24 359.40L282.71 360.07L282.84 360.12L284.17 360.70L285.24 361.13L285.63 361.29L287.09 361.84L287.99 362.14L288.56 362.34L290.02 362.79L291.33 363.15L291.48 363.20L292.94 363.55L294.41 363.86L295.87 364.12L296.19 364.16Z" fill="none" stroke="#fde725" stroke-width="2.08" stroke-linejoin="round"/>
<path d="M278.32 317.76L279.78 317.91L281.24 318.03L282.71 318.11L284.17 318.14L285.63 318.13L287.09 318.07L288.56 317.96L290.02 317.78L290.34 317.73L291.48 317.53L292.94 317.18L294.41 316.73L294.44 316.72L295.87 316.12L296.66 315.71L297.33 315.30L298.17 314.70L298.79 314.15L299.26 313.69L300.09 312.68L300.26 312.44L300.73 311.67L301.23 310.66L301.64 309.65L301.72 309.44L301.98 308.65L302.29 307.64L302.59 306.63L302.90 305.62L303.18 304.85L303.27 304.61L303.74 303.60L304.36 302.59L304.64 302.23L305.22 301.58L306.10 300.84L306.49 300.57L307.57 299.98L308.51 299.56L309.03 299.37L310.49 298.95L311.95 298.62L312.32 298.55L313.42 298.38L314.88 298.20L316.34 298.06L317.80 297.96L319.27 297.89L320.73 297.83L322.19 297.80L323.65 297.79L325.12 297.78L326.58 297.79L328.04 297.81L329.50 297.84L330.97 297.87L332.43 297.90L333.89 297.93L335.35 297.96L336.82 297.99L338.28 298.00L339.74 298.00L341.20 297.98L342.67 297.95L344.13 297.89L345.59 297.81L347.05 297.70L348.51 297.55L348.62 297.54L349.98 297.39L351.44 297.18L352.90 296.94L354.36 296.65L354.86 296.53L355.83 296.33L357.29 295.96L358.75 295.55L358.84 295.52L360.21 295.11L361.68 294.61L361.94 294.51L363.14 294.08L364.58 293.50L364.60 293.50L366.06 292.88L366.88 292.50L367.53 292.20L368.95 291.49L368.99 291.47L370.45 290.69L370.82 290.48L371.91 289.85L372.53 289.47L373.38 288.94L374.10 288.46L374.84 287.95L375.53 287.45L376.30 286.87L376.85 286.44L377.76 285.68L378.05 285.43L379.16 284.42L379.23 284.36L380.19 283.41L380.69 282.88L381.12 282.40L381.98 281.39L382.15 281.18L382.77 280.38L383.49 279.37L383.61 279.19L384.16 278.36L384.77 277.35L385.07 276.80L385.33 276.35L385.84 275.34L386.31 274.33L386.54 273.78L386.74 273.32L387.13 272.31L387.49 271.30L387.80 270.29L388.00 269.59L388.09 269.28L388.35 268.27L388.58 267.26L388.77 266.25L388.93 265.24L389.05 264.23L389.14 263.22L389.19 262.21L389.21 261.20L389.19 260.19L389.12 259.19L389.02 258.18L388.87 257.17L388.67 256.16L388.43 255.15L388.13 254.14L388.00 253.75L387.80 253.13L387.41 252.12L386.97 251.11L386.54 250.25L386.47 250.10L385.93 249.09L385.32 248.08L385.07 247.72L384.66 247.07L383.94 246.06L383.61 245.64L383.16 245.05L382.32 244.04L382.15 243.85L381.43 243.04L380.69 242.26L380.46 242.03L379.43 241.02L379.23 240.83L378.33 240.01L377.76 239.51L377.16 239.00L376.30 238.30L375.91 237.99L374.84 237.17L374.57 236.98L373.38 236.13L373.15 235.97L371.91 235.14L371.63 234.96L370.45 234.22L369.99 233.95L368.99 233.36L368.23 232.94L367.53 232.55L366.33 231.93L366.06 231.80L364.60 231.09L364.24 230.92L363.14 230.42L361.94 229.91L361.68 229.80L360.21 229.22L359.36 228.90L358.75 228.68L357.29 228.18L356.40 227.89L355.83 227.71L354.36 227.28L352.90 226.89L352.90 226.89L351.44 226.51L349.98 226.17L348.54 225.88L348.51 225.87L347.05 225.58L345.59 225.32L344.13 225.08L342.67 224.87L342.67 224.87L341.20 224.66L339.74 224.47L338.28 224.29L336.82 224.13L335.35 223.97L334.31 223.86L333.89 223.81L332.43 223.65L330.97 223.49L329.50 223.33L328.04 223.16L326.58 222.99L325.45 222.85L325.12 222.80L323.65 222.60L322.19 222.39L320.73 222.17L319.27 221.94L318.68 221.84L317.80 221.69L316.34 221.42L314.88 221.15L313.42 220.87L313.20 220.83L311.95 220.58L310.49 220.28L309.03 219.97L308.30 219.82L307.57 219.66L306.10 219.35L304.64 219.03L303.62 218.81L303.18 218.71L301.72 218.39L300.26 218.07L298.99 217.80L298.79 217.76L297.33 217.44L295.87 217.12L294.41 216.81L294.32 216.79L292.94 216.49L291.48 216.18L290.02 215.87L289.58 215.78L288.56 215.56L287.09 215.26L285.63 214.96L284.73 214.77L284.17 214.66L282.71 214.35L281.24 214.06L279.78 213.78L279.71 213.76L278.32 213.48L276.86 213.20L275.39 212.92L274.47 212.75L273.93 212.65L272.47 212.38L271.01 212.11L269.54 211.86L268.84 211.74L268.08 211.61L266.62 211.36L265.16 211.13L263.70 210.91L262.49 210.73L262.23 210.70L260.77 210.48L259.31 210.28L257.85 210.09L256.38 209.92L254.92 209.76L254.58 209.73L253.46 209.60L252.00 209.46L250.53 209.33L249.07 209.21L247.61 209.11L246.15 209.02L244.68 208.95L243.22 208.89L241.76 208.85L240.30 208.82L238.83 208.81L237.37 208.82L235.91 208.84L234.45 208.88L232.98 208.93L231.52 209.01L230.06 209.11L228.60 209.22L227.13 209.36L225.67 209.53L224.21 209.72L224.15 209.73L222.75 209.92L221.29 210.15L219.82 210.40L218.36 210.70L218.18 210.73L216.90 211.00L215.44 211.35L213.97 211.73L213.93 211.74L212.51 212.14L211.05 212.59L210.56 212.75L209.59 213.08L208.12 213.63L207.78 213.76L206.66 214.22L205.41 214.77L205.20 214.87L203.74 215.59L203.38 215.78L202.27 216.40L201.61 216.79L200.81 217.30L200.07 217.80L199.35 218.33L198.73 218.81L197.89 219.54L197.57 219.82L196.56 220.83L196.42 220.99L195.69 221.84L194.96 222.85L194.96 222.85L194.34 223.86L193.85 224.87L193.50 225.77L193.46 225.88L193.16 226.89L192.96 227.89L192.86 228.90L192.84 229.91L192.91 230.92L193.06 231.93L193.29 232.94L193.50 233.62L193.60 233.95L193.96 234.96L194.41 235.97L194.93 236.98L194.96 237.04L195.49 237.99L196.13 239.00L196.42 239.42L196.82 240.01L197.56 241.02L197.89 241.43L198.35 242.03L199.18 243.04L199.35 243.23L200.04 244.04L200.81 244.91L200.94 245.05L201.85 246.06L202.27 246.51L202.79 247.07L203.74 248.08L203.74 248.08L204.68 249.09L205.20 249.64L205.63 250.10L206.57 251.11L206.66 251.21L207.48 252.12L208.12 252.83L208.39 253.13L209.26 254.14L209.59 254.52L210.11 255.15L210.93 256.16L211.05 256.30L211.71 257.17L212.47 258.18L212.51 258.23L213.18 259.19L213.87 260.19L213.97 260.36L214.50 261.20L215.12 262.21L215.44 262.77L215.69 263.22L216.23 264.23L216.75 265.24L216.90 265.55L217.23 266.25L217.68 267.26L218.12 268.27L218.36 268.86L218.53 269.28L218.92 270.29L219.29 271.30L219.66 272.31L219.82 272.78L220.01 273.32L220.35 274.33L220.70 275.34L221.04 276.35L221.29 277.07L221.38 277.35L221.73 278.36L222.09 279.37L222.46 280.38L222.75 281.14L222.84 281.39L223.25 282.40L223.68 283.41L224.13 284.42L224.21 284.58L224.62 285.43L225.14 286.44L225.67 287.38L225.71 287.45L226.32 288.46L226.99 289.47L227.13 289.67L227.71 290.48L228.50 291.49L228.60 291.60L229.36 292.50L230.06 293.26L230.29 293.50L231.29 294.51L231.52 294.73L232.37 295.52L232.98 296.06L233.54 296.53L234.45 297.27L234.78 297.54L235.91 298.41L236.10 298.55L237.37 299.47L237.50 299.56L238.83 300.48L238.96 300.57L240.30 301.45L240.49 301.58L241.76 302.39L242.08 302.59L243.22 303.30L243.71 303.60L244.68 304.19L245.39 304.61L246.15 305.06L247.11 305.62L247.61 305.91L248.86 306.63L249.07 306.75L250.53 307.57L250.65 307.64L252.00 308.38L252.49 308.65L253.46 309.17L254.38 309.65L254.92 309.94L256.33 310.66L256.38 310.69L257.85 311.42L258.38 311.67L259.31 312.12L260.55 312.68L260.77 312.78L262.23 313.42L262.91 313.69L263.70 314.01L265.16 314.57L265.53 314.70L266.62 315.08L268.08 315.56L268.59 315.71L269.54 315.99L271.01 316.39L272.38 316.72L272.47 316.74L273.93 317.05L275.39 317.33L276.86 317.56L278.10 317.73Z" fill="none" stroke="#fde725" stroke-width="2.08" stroke-linejoin="round"/>
<path d="M342.67 285.60L344.13 285.73L345.59 285.82L347.05 285.87L348.51 285.88L349.98 285.84L351.44 285.76L352.90 285.63L354.36 285.44L354.43 285.43L355.83 285.20L357.29 284.91L358.75 284.55L359.20 284.42L360.21 284.13L361.68 283.63L362.25 283.41L363.14 283.06L364.60 282.40L364.61 282.40L366.06 281.65L366.51 281.39L367.53 280.78L368.13 280.38L368.99 279.79L369.53 279.37L370.45 278.63L370.76 278.36L371.85 277.35L371.91 277.29L372.80 276.35L373.38 275.69L373.67 275.34L374.44 274.33L374.84 273.75L375.13 273.32L375.75 272.31L376.30 271.32L376.31 271.30L376.82 270.29L377.27 269.28L377.67 268.27L377.76 268.00L378.02 267.26L378.33 266.25L378.59 265.24L378.80 264.23L378.97 263.22L379.09 262.21L379.16 261.20L379.18 260.19L379.15 259.19L379.07 258.18L378.93 257.17L378.73 256.16L378.47 255.15L378.15 254.14L377.76 253.13L377.76 253.13L377.31 252.12L376.79 251.11L376.30 250.27L376.20 250.10L375.53 249.09L374.84 248.16L374.78 248.08L373.95 247.07L373.38 246.43L373.04 246.06L372.02 245.05L371.91 244.95L370.91 244.04L370.45 243.65L369.69 243.04L368.99 242.49L368.35 242.03L367.53 241.45L366.88 241.02L366.06 240.50L365.25 240.01L364.60 239.63L363.43 239.00L363.14 238.84L361.68 238.12L361.40 237.99L360.21 237.45L359.07 236.98L358.75 236.85L357.29 236.29L356.35 235.97L355.83 235.79L354.36 235.33L353.04 234.96L352.90 234.92L351.44 234.55L349.98 234.21L348.66 233.95L348.51 233.92L347.05 233.66L345.59 233.43L344.13 233.23L342.67 233.06L341.41 232.94L341.20 232.92L339.74 232.80L338.28 232.70L336.82 232.61L335.35 232.54L333.89 232.48L332.43 232.42L330.97 232.37L329.50 232.31L328.04 232.25L326.58 232.18L325.12 232.09L323.65 231.99L323.02 231.93L322.19 231.86L320.73 231.70L319.27 231.52L317.80 231.30L316.34 231.04L315.78 230.92L314.88 230.74L313.42 230.42L311.95 230.05L311.46 229.91L310.49 229.65L309.03 229.23L307.98 228.90L307.57 228.78L306.10 228.32L304.84 227.89L304.64 227.83L303.18 227.34L301.84 226.89L301.72 226.84L300.26 226.35L298.89 225.88L298.79 225.84L297.33 225.35L295.91 224.87L295.87 224.85L294.41 224.37L292.94 223.89L292.86 223.86L291.48 223.41L290.02 222.95L289.71 222.85L288.56 222.49L287.09 222.04L286.44 221.84L285.63 221.60L284.17 221.16L283.01 220.83L282.71 220.74L281.24 220.33L279.78 219.92L279.40 219.82L278.32 219.53L276.86 219.14L275.56 218.81L275.39 218.77L273.93 218.40L272.47 218.05L271.41 217.80L271.01 217.71L269.54 217.37L268.08 217.06L266.80 216.79L266.62 216.75L265.16 216.46L263.70 216.17L262.23 215.91L261.48 215.78L260.77 215.66L259.31 215.42L257.85 215.19L256.38 214.99L254.92 214.80L254.72 214.77L253.46 214.62L252.00 214.45L250.53 214.31L249.07 214.18L247.61 214.07L246.15 213.98L244.68 213.91L243.22 213.86L241.76 213.83L240.30 213.82L238.83 213.83L237.37 213.86L235.91 213.91L234.45 213.99L232.98 214.09L231.52 214.21L230.06 214.37L228.60 214.55L227.13 214.77L227.12 214.77L225.67 215.01L224.21 215.29L222.75 215.60L222.00 215.78L221.29 215.96L219.82 216.35L218.38 216.79L218.36 216.80L216.90 217.29L215.55 217.80L215.44 217.85L213.97 218.47L213.25 218.81L212.51 219.18L211.33 219.82L211.05 219.98L209.71 220.83L209.59 220.92L208.35 221.84L208.12 222.03L207.20 222.85L206.66 223.40L206.24 223.86L205.44 224.87L205.20 225.25L204.80 225.88L204.29 226.89L203.92 227.89L203.74 228.63L203.67 228.90L203.52 229.91L203.49 230.92L203.55 231.93L203.71 232.94L203.74 233.03L203.96 233.95L204.30 234.96L204.72 235.97L205.20 236.92L205.23 236.98L205.80 237.99L206.44 239.00L206.66 239.30L207.15 240.01L207.92 241.02L208.12 241.26L208.75 242.03L209.59 242.99L209.63 243.04L210.54 244.04L211.05 244.58L211.50 245.05L212.49 246.06L212.51 246.09L213.50 247.07L213.97 247.54L214.53 248.08L215.44 248.95L215.58 249.09L216.64 250.10L216.90 250.35L217.70 251.11L218.36 251.73L218.77 252.12L219.82 253.11L219.85 253.13L220.91 254.14L221.29 254.50L221.97 255.15L222.75 255.89L223.03 256.16L224.09 257.17L224.21 257.28L225.15 258.18L225.67 258.68L226.20 259.19L227.13 260.07L227.27 260.19L228.33 261.20L228.60 261.46L229.40 262.21L230.06 262.84L230.49 263.22L231.52 264.17L231.59 264.23L232.72 265.24L232.98 265.49L233.87 266.25L234.45 266.75L235.06 267.26L235.91 267.97L236.29 268.27L237.37 269.13L237.57 269.28L238.83 270.23L238.92 270.29L240.30 271.27L240.34 271.30L241.76 272.25L241.86 272.31L243.22 273.16L243.50 273.32L244.68 274.01L245.31 274.33L246.15 274.78L247.34 275.34L247.61 275.47L249.07 276.09L249.77 276.35L250.53 276.64L252.00 277.10L252.98 277.35L253.46 277.48L254.92 277.80L256.38 278.02L257.85 278.16L259.31 278.22L260.77 278.21L262.23 278.14L263.70 277.99L265.16 277.79L266.62 277.54L267.49 277.35L268.08 277.24L269.54 276.92L271.01 276.56L271.83 276.35L272.47 276.19L273.93 275.81L275.39 275.42L275.69 275.34L276.86 275.03L278.32 274.66L279.64 274.33L279.78 274.29L281.24 273.95L282.71 273.63L284.17 273.34L284.29 273.32L285.63 273.09L287.09 272.87L288.56 272.70L290.02 272.58L291.48 272.52L292.94 272.51L294.41 272.56L295.87 272.68L297.33 272.86L298.79 273.11L299.80 273.32L300.26 273.41L301.72 273.77L303.18 274.17L303.67 274.33L304.64 274.62L306.10 275.10L306.77 275.34L307.57 275.60L309.03 276.13L309.61 276.35L310.49 276.66L311.95 277.20L312.36 277.35L313.42 277.74L314.88 278.28L315.11 278.36L316.34 278.81L317.80 279.33L317.92 279.37L319.27 279.84L320.73 280.34L320.84 280.38L322.19 280.83L323.65 281.31L323.92 281.39L325.12 281.76L326.58 282.21L327.24 282.40L328.04 282.63L329.50 283.04L330.92 283.41L330.97 283.42L332.43 283.79L333.89 284.13L335.23 284.42L335.35 284.45L336.82 284.74L338.28 285.00L339.74 285.23L341.20 285.43L341.20 285.43Z" fill="none" stroke="#fde725" stroke-width="2.08" stroke-linejoin="round"/>
<path d="M348.51 277.37L349.98 277.38L350.71 277.35L351.44 277.32L352.90 277.18L354.36 276.96L355.83 276.65L356.94 276.35L357.29 276.24L358.75 275.73L359.66 275.34L360.21 275.08L361.63 274.33L361.68 274.30L363.14 273.35L363.18 273.32L364.45 272.31L364.60 272.18L365.53 271.30L366.06 270.74L366.46 270.29L367.26 269.28L367.53 268.91L367.95 268.27L368.56 267.26L368.99 266.44L369.08 266.25L369.52 265.24L369.89 264.23L370.19 263.22L370.43 262.21L370.45 262.06L370.59 261.20L370.68 260.19L370.70 259.19L370.65 258.18L370.52 257.17L370.45 256.82L370.31 256.16L370.03 255.15L369.66 254.14L369.20 253.13L368.99 252.74L368.64 252.12L367.98 251.11L367.53 250.49L367.22 250.10L366.34 249.09L366.06 248.81L365.33 248.08L364.60 247.44L364.17 247.07L363.14 246.28L362.84 246.06L361.68 245.28L361.31 245.05L360.21 244.41L359.53 244.04L358.75 243.65L357.43 243.04L357.29 242.97L355.83 242.38L354.83 242.03L354.36 241.86L352.90 241.41L351.44 241.02L351.41 241.02L349.98 240.69L348.51 240.42L347.05 240.19L345.59 240.02L345.43 240.01L344.13 239.90L342.67 239.82L341.20 239.78L339.74 239.79L338.28 239.84L336.82 239.92L335.82 240.01L335.35 240.05L333.89 240.22L332.43 240.42L330.97 240.66L329.50 240.94L329.13 241.02L328.04 241.26L326.58 241.62L325.12 242.02L325.09 242.03L323.65 242.48L322.19 242.98L322.02 243.04L320.73 243.56L319.60 244.04L319.27 244.22L317.80 245.02L317.75 245.05L316.37 246.06L316.34 246.10L315.40 247.07L314.88 248.02L314.84 248.08L314.53 249.09L314.45 250.10L314.55 251.11L314.77 252.12L314.88 252.46L315.07 253.13L315.43 254.14L315.86 255.15L316.34 256.12L316.36 256.16L316.87 257.17L317.44 258.18L317.80 258.76L318.05 259.19L318.69 260.19L319.27 261.02L319.39 261.20L320.11 262.21L320.73 262.99L320.90 263.22L321.73 264.23L322.19 264.74L322.63 265.24L323.60 266.25L323.65 266.30L324.63 267.26L325.12 267.69L325.76 268.27L326.58 268.94L326.99 269.28L328.04 270.07L328.33 270.29L329.50 271.09L329.82 271.30L330.97 272.01L331.47 272.31L332.43 272.84L333.33 273.32L333.89 273.59L335.35 274.27L335.48 274.33L336.82 274.88L338.05 275.34L338.28 275.42L339.74 275.89L341.20 276.30L341.40 276.35L342.67 276.64L344.13 276.92L345.59 277.14L347.05 277.29L348.19 277.35ZM253.46 265.37L254.92 265.56L256.38 265.70L257.85 265.77L259.31 265.77L260.77 265.72L262.23 265.61L263.70 265.44L264.93 265.24L265.16 265.21L266.62 264.93L268.08 264.59L269.42 264.23L269.54 264.20L271.01 263.76L272.47 263.27L272.60 263.22L273.93 262.73L275.23 262.21L275.39 262.15L276.86 261.51L277.54 261.20L278.32 260.84L279.63 260.19L279.78 260.12L281.24 259.36L281.57 259.19L282.71 258.56L283.40 258.18L284.17 257.73L285.14 257.17L285.63 256.87L286.81 256.16L287.09 255.98L288.43 255.15L288.56 255.06L290.01 254.14L290.02 254.13L291.48 253.18L291.57 253.13L292.94 252.21L293.09 252.12L294.41 251.22L294.58 251.11L295.87 250.19L296.00 250.10L297.33 249.10L297.35 249.09L298.59 248.08L298.79 247.88L299.67 247.07L300.26 246.34L300.49 246.06L301.09 245.05L301.40 244.04L301.46 243.04L301.33 242.03L301.01 241.02L300.54 240.01L300.26 239.57L299.93 239.00L299.22 237.99L298.79 237.50L298.38 236.98L297.43 235.97L297.33 235.88L296.39 234.96L295.87 234.53L295.22 233.95L294.41 233.32L293.94 232.94L292.94 232.24L292.53 231.93L291.48 231.25L291.00 230.92L290.02 230.34L289.33 229.91L288.56 229.49L287.52 228.90L287.09 228.69L285.63 227.94L285.55 227.89L284.17 227.24L283.42 226.89L282.71 226.57L281.24 225.93L281.11 225.88L279.78 225.33L278.61 224.87L278.32 224.76L276.86 224.21L275.88 223.86L275.39 223.69L273.93 223.19L272.89 222.85L272.47 222.72L271.01 222.26L269.57 221.84L269.54 221.83L268.08 221.42L266.62 221.03L265.82 220.83L265.16 220.66L263.70 220.32L262.23 219.99L261.43 219.82L260.77 219.68L259.31 219.39L257.85 219.13L256.38 218.88L255.90 218.81L254.92 218.66L253.46 218.45L252.00 218.27L250.53 218.11L249.07 217.97L247.61 217.86L246.67 217.80L246.15 217.77L244.68 217.70L243.22 217.65L241.76 217.63L240.30 217.64L238.83 217.68L237.37 217.74L236.45 217.80L235.91 217.84L234.45 217.96L232.98 218.12L231.52 218.31L230.06 218.54L228.60 218.81L228.60 218.81L227.13 219.13L225.67 219.49L224.51 219.82L224.21 219.91L222.75 220.39L221.57 220.83L221.29 220.94L219.82 221.59L219.30 221.84L218.36 222.34L217.47 222.85L216.90 223.22L215.99 223.86L215.44 224.31L214.79 224.87L213.97 225.70L213.81 225.88L213.04 226.89L212.51 227.77L212.44 227.89L212.00 228.90L211.71 229.91L211.55 230.92L211.51 231.93L211.59 232.94L211.78 233.95L212.08 234.96L212.47 235.97L212.51 236.05L212.95 236.98L213.52 237.99L213.97 238.68L214.18 239.00L214.90 240.01L215.44 240.68L215.70 241.02L216.56 242.03L216.90 242.39L217.48 243.04L218.36 243.94L218.46 244.04L219.49 245.05L219.82 245.37L220.55 246.06L221.29 246.73L221.66 247.07L222.75 248.03L222.81 248.08L223.98 249.09L224.21 249.29L225.18 250.10L225.67 250.51L226.42 251.11L227.13 251.69L227.68 252.12L228.60 252.85L228.97 253.13L230.06 253.97L230.29 254.14L231.52 255.06L231.65 255.15L232.98 256.12L233.05 256.16L234.45 257.13L234.50 257.17L235.91 258.11L236.02 258.18L237.37 259.04L237.63 259.19L238.83 259.91L239.34 260.19L240.30 260.74L241.20 261.20L241.76 261.50L243.22 262.20L243.25 262.21L244.68 262.85L245.64 263.22L246.15 263.43L247.61 263.95L248.55 264.23L249.07 264.40L250.53 264.79L252.00 265.11L252.77 265.24Z" fill="none" stroke="#fde725" stroke-width="2.08" stroke-linejoin="round"/>
<path d="M345.59 265.35L347.05 265.69L348.51 265.87L349.98 265.89L351.44 265.73L352.90 265.38L353.27 265.24L354.36 264.78L355.30 264.23L355.83 263.88L356.58 263.22L357.29 262.47L357.49 262.21L358.11 261.20L358.55 260.19L358.75 259.45L358.81 259.19L358.90 258.18L358.83 257.17L358.75 256.81L358.59 256.16L358.17 255.15L357.59 254.14L357.29 253.74L356.77 253.13L355.83 252.22L355.71 252.12L354.36 251.17L354.26 251.11L352.90 250.41L352.18 250.10L351.44 249.82L349.98 249.40L348.51 249.10L348.47 249.09L347.05 248.95L345.59 248.91L344.13 249.01L343.58 249.09L342.67 249.26L341.20 249.68L340.18 250.10L339.74 250.33L338.55 251.11L338.28 251.35L337.55 252.12L336.90 253.13L336.82 253.34L336.54 254.14L336.39 255.15L336.42 256.16L336.61 257.17L336.82 257.77L336.96 258.18L337.47 259.19L338.11 260.19L338.28 260.41L338.94 261.20L339.74 262.02L339.95 262.21L341.20 263.22L341.20 263.22L342.67 264.13L342.86 264.23L344.13 264.83L345.27 265.24ZM249.07 256.26L250.53 256.56L252.00 256.79L253.46 256.96L254.92 257.05L256.38 257.07L257.85 257.01L259.31 256.88L260.77 256.68L262.23 256.40L263.20 256.16L263.70 256.03L265.16 255.59L266.38 255.15L266.62 255.06L268.08 254.44L268.72 254.14L269.54 253.73L270.65 253.13L271.01 252.92L272.31 252.12L272.47 252.01L273.77 251.11L273.93 250.99L275.08 250.10L275.39 249.84L276.27 249.09L276.86 248.54L277.33 248.08L278.29 247.07L278.32 247.04L279.15 246.06L279.78 245.20L279.89 245.05L280.53 244.04L281.06 243.04L281.24 242.57L281.46 242.03L281.75 241.02L281.90 240.01L281.92 239.00L281.79 237.99L281.52 236.98L281.24 236.34L281.09 235.97L280.51 234.96L279.78 233.98L279.76 233.95L278.85 232.94L278.32 232.46L277.75 231.93L276.86 231.23L276.46 230.92L275.39 230.20L274.98 229.91L273.93 229.29L273.27 228.90L272.47 228.48L271.33 227.89L271.01 227.74L269.54 227.08L269.10 226.89L268.08 226.47L266.62 225.90L266.55 225.88L265.16 225.39L263.70 224.90L263.57 224.87L262.23 224.47L260.77 224.06L259.99 223.86L259.31 223.69L257.85 223.35L256.38 223.04L255.39 222.85L254.92 222.76L253.46 222.51L252.00 222.30L250.53 222.11L249.07 221.96L247.70 221.84L247.61 221.83L246.15 221.74L244.68 221.68L243.22 221.65L241.76 221.66L240.30 221.70L238.83 221.78L238.15 221.84L237.37 221.90L235.91 222.07L234.45 222.29L232.98 222.55L231.63 222.85L231.52 222.87L230.06 223.27L228.60 223.73L228.26 223.86L227.13 224.30L225.89 224.87L225.67 224.98L224.21 225.82L224.13 225.88L222.77 226.89L222.75 226.91L221.74 227.89L221.29 228.46L220.96 228.90L220.39 229.91L220.02 230.92L219.82 231.91L219.82 231.93L219.77 232.94L219.82 233.48L219.87 233.95L220.09 234.96L220.44 235.97L220.90 236.98L221.29 237.67L221.47 237.99L222.14 239.00L222.75 239.81L222.90 240.01L223.75 241.02L224.21 241.51L224.69 242.03L225.67 243.00L225.71 243.04L226.81 244.04L227.13 244.33L227.98 245.05L228.60 245.57L229.22 246.06L230.06 246.72L230.54 247.07L231.52 247.80L231.93 248.08L232.98 248.82L233.40 249.09L234.45 249.78L234.96 250.10L235.91 250.69L236.63 251.11L237.37 251.54L238.43 252.12L238.83 252.34L240.30 253.08L240.40 253.13L241.76 253.77L242.63 254.14L243.22 254.39L244.68 254.96L245.25 255.15L246.15 255.46L247.61 255.89L248.67 256.16Z" fill="none" stroke="#fde725" stroke-width="2.08" stroke-linejoin="round"/>
<circle cx="350.30" cy="212.00" r="4.17" fill="#440154" stroke="#ffffff" stroke-width="0.67"/>
<circle cx="303.30" cy="232.25" r="4.17" fill="#440154" stroke="#ffffff" stroke-width="0.67"/>
<circle cx="320.80" cy="232.25" r="4.17" fill="#440154" stroke="#ffffff" stroke-width="0.67"/>
<circle cx="366.30" cy="232.25" r="4.17" fill="#440154" stroke="#ffffff" stroke-width="0.67"/>
<circle cx="370.30" cy="232.25" r="4.17" fill="#440154" stroke="#ffffff" stroke-width="0.67"/>
<circle cx="211.30" cy="252.50" r="4.17" fill="#440154" stroke="#ffffff" stroke-width="0.67"/>
<circle cx="211.30" cy="252.50" r="4.17" fill="#440154" stroke="#ffffff" stroke-width="0.67"/>
<circle cx="289.30" cy="252.50" r="4.17" fill="#440154" stroke="#ffffff" stroke-width="0.67"/>
<circle cx="307.30" cy="252.50" r="4.17" fill="#440154" stroke="#ffffff" stroke-width="0.67"/>
<circle cx="211.80" cy="272.75" r="4.17" fill="#440154" stroke="#ffffff" stroke-width="0.67"/>
<circle cx="211.80" cy="272.75" r="4.17" fill="#440154" stroke="#ffffff" stroke-width="0.67"/>
<circle cx="215.80" cy="272.75" r="4.17" fill="#440154" stroke="#ffffff" stroke-width="0.67"/>
<circle cx="373.60" cy="293.00" r="4.17" fill="#440154" stroke="#ffffff" stroke-width="0.67"/>
<circle cx="189.00" cy="313.25" r="4.17" fill="#440154" stroke="#ffffff" stroke-width="0.67"/>
<circle cx="203.10" cy="333.50" r="4.17" fill="#440154" stroke="#ffffff" stroke-width="0.67"/>
<circle cx="205.30" cy="353.75" r="4.17" fill="#440154" stroke="#ffffff" stroke-width="0.67"/>
<circle cx="208.60" cy="353.75" r="4.17" fill="#440154" stroke="#ffffff" stroke-width="0.67"/>
<circle cx="237.80" cy="353.75" r="4.17" fill="#440154" stroke="#ffffff" stroke-width="0.67"/>
<circle cx="221.30" cy="434.75" r="4.17" fill="#440154" stroke="#ffffff" stroke-width="0.67"/>
<circle cx="205.80" cy="232.25" r="4.17" fill="#fde725" stroke="#ffffff" stroke-width="0.67"/>
<circle cx="215.30" cy="232.25" r="4.17" fill="#fde725" stroke="#ffffff" stroke-width="0.67"/>
<circle cx="215.30" cy="232.25" r="4.17" fill="#fde725" stroke="#ffffff" stroke-width="0.67"/>
<circle cx="215.30" cy="232.25" r="4.17" fill="#fde725" stroke="#ffffff" stroke-width="0.67"/>
<circle cx="229.00" cy="232.25" r="4.17" fill="#fde725" stroke="#ffffff" stroke-width="0.67"/>
<circle cx="229.00" cy="232.25" r="4.17" fill="#fde725" stroke="#ffffff" stroke-width="0.67"/>
<circle cx="233.00" cy="232.25" r="4.17" fill="#fde725" stroke="#ffffff" stroke-width="0.67"/>
<circle cx="233.00" cy="232.25" r="4.17" fill="#fde725" stroke="#ffffff" stroke-width="0.67"/>
<circle cx="237.30" cy="232.25" r="4.17" fill="#fde725" stroke="#ffffff" stroke-width="0.67"/>
<circle cx="237.30" cy="232.25" r="4.17" fill="#fde725" stroke="#ffffff" stroke-width="0.67"/>
<circle cx="237.30" cy="232.25" r="4.17" fill="#fde725" stroke="#ffffff" stroke-width="0.67"/>
<circle cx="242.30" cy="232.25" r="4.17" fill="#fde725" stroke="#ffffff" stroke-width="0.67"/>
<circle cx="242.30" cy="232.25" r="4.17" fill="#fde725" stroke="#ffffff" stroke-width="0.67"/>
<circle cx="242.30" cy="232.25" r="4.17" fill="#fde725" stroke="#ffffff" stroke-width="0.67"/>
<circle cx="242.30" cy="232.25" r="4.17" fill="#fde725" stroke="#ffffff" stroke-width="0.67"/>
<circle cx="247.80" cy="232.25" r="4.17" fill="#fde725" stroke="#ffffff" stroke-width="0.67"/>
<circle cx="247.80" cy="232.25" r="4.17" fill="#fde725" stroke="#ffffff" stroke-width="0.67"/>
<circle cx="247.80" cy="232.25" r="4.17" fill="#fde725" stroke="#ffffff" stroke-width="0.67"/>
<circle cx="247.80" cy="232.25" r="4.17" fill="#fde725" stroke="#ffffff" stroke-width="0.67"/>
<circle cx="247.80" cy="232.25" r="4.17" fill="#fde725" stroke="#ffffff" stroke-width="0.67"/>
<circle cx="257.80" cy="232.25" r="4.17" fill="#fde725" stroke="#ffffff" stroke-width="0.67"/>
<circle cx="257.80" cy="232.25" r="4.17" fill="#fde725" stroke="#ffffff" stroke-width="0.67"/>
<circle cx="264.80" cy="232.25" r="4.17" fill="#fde725" stroke="#ffffff" stroke-width="0.67"/>
<circle cx="264.80" cy="232.25" r="4.17" fill="#fde725" stroke="#ffffff" stroke-width="0.67"/>
<circle cx="264.80" cy="232.25" r="4.17" fill="#fde725" stroke="#ffffff" stroke-width="0.67"/>
<circle cx="270.30" cy="232.25" r="4.17" fill="#fde725" stroke="#ffffff" stroke-width="0.67"/>
<circle cx="273.80" cy="232.25" r="4.17" fill="#fde725" stroke="#ffffff" stroke-width="0.67"/>
<circle cx="273.80" cy="232.25" r="4.17" fill="#fde725" stroke="#ffffff" stroke-width="0.67"/>
<circle cx="283.80" cy="232.25" r="4.17" fill="#fde725" stroke="#ffffff" stroke-width="0.67"/>
<circle cx="283.80" cy="232.25" r="4.17" fill="#fde725" stroke="#ffffff" stroke-width="0.67"/>
<circle cx="305.30" cy="232.25" r="4.17" fill="#fde725" stroke="#ffffff" stroke-width="0.67"/>
<circle cx="305.30" cy="232.25" r="4.17" fill="#fde725" stroke="#ffffff" stroke-width="0.67"/>
<circle cx="305.30" cy="232.25" r="4.17" fill="#fde725" stroke="#ffffff" stroke-width="0.67"/>
<circle cx="305.30" cy="232.25" r="4.17" fill="#fde725" stroke="#ffffff" stroke-width="0.67"/>
<circle cx="336.60" cy="232.25" r="4.17" fill="#fde725" stroke="#ffffff" stroke-width="0.67"/>
<circle cx="347.50" cy="232.25" r="4.17" fill="#fde725" stroke="#ffffff" stroke-width="0.67"/>
<circle cx="356.10" cy="232.25" r="4.17" fill="#fde725" stroke="#ffffff" stroke-width="0.67"/>
<circle cx="237.80" cy="252.50" r="4.17" fill="#fde725" stroke="#ffffff" stroke-width="0.67"/>
<circle cx="241.30" cy="252.50" r="4.17" fill="#fde725" stroke="#ffffff" stroke-width="0.67"/>
<circle cx="241.30" cy="252.50" r="4.17" fill="#fde725" stroke="#ffffff" stroke-width="0.67"/>
<circle cx="247.30" cy="252.50" r="4.17" fill="#fde725" stroke="#ffffff" stroke-width="0.67"/>
<circle cx="253.80" cy="252.50" r="4.17" fill="#fde725" stroke="#ffffff" stroke-width="0.67"/>
<circle cx="253.80" cy="252.50" r="4.17" fill="#fde725" stroke="#ffffff" stroke-width="0.67"/>
<circle cx="253.80" cy="252.50" r="4.17" fill="#fde725" stroke="#ffffff" stroke-width="0.67"/>
<circle cx="253.80" cy="252.50" r="4.17" fill="#fde725" stroke="#ffffff" stroke-width="0.67"/>
<circle cx="258.60" cy="252.50" r="4.17" fill="#fde725" stroke="#ffffff" stroke-width="0.67"/>
<circle cx="264.30" cy="252.50" r="4.17" fill="#fde725" stroke="#ffffff" stroke-width="0.67"/>
<circle cx="264.30" cy="252.50" r="4.17" fill="#fde725" stroke="#ffffff" stroke-width="0.67"/>
<circle cx="287.30" cy="252.50" r="4.17" fill="#fde725" stroke="#ffffff" stroke-width="0.67"/>
<circle cx="287.30" cy="252.50" r="4.17" fill="#fde725" stroke="#ffffff" stroke-width="0.67"/>
<circle cx="305.30" cy="252.50" r="4.17" fill="#fde725" stroke="#ffffff" stroke-width="0.67"/>
<circle cx="305.30" cy="252.50" r="4.17" fill="#fde725" stroke="#ffffff" stroke-width="0.67"/>
<circle cx="323.80" cy="252.50" r="4.17" fill="#fde725" stroke="#ffffff" stroke-width="0.67"/>
<circle cx="323.80" cy="252.50" r="4.17" fill="#fde725" stroke="#ffffff" stroke-width="0.67"/>
<circle cx="346.10" cy="252.50" r="4.17" fill="#fde725" stroke="#ffffff" stroke-width="0.67"/>
<circle cx="346.10" cy="252.50" r="4.17" fill="#fde725" stroke="#ffffff" stroke-width="0.67"/>
<circle cx="346.10" cy="252.50" r="4.17" fill="#fde725" stroke="#ffffff" stroke-width="0.67"/>
<circle cx="346.10" cy="252.50" r="4.17" fill="#fde725" stroke="#ffffff" stroke-width="0.67"/>
<circle cx="346.10" cy="252.50" r="4.17" fill="#fde725" stroke="#ffffff" stroke-width="0.67"/>
<circle cx="346.10" cy="252.50" r="4.17" fill="#fde725" stroke="#ffffff" stroke-width="0.67"/>
<circle cx="353.60" cy="252.50" r="4.17" fill="#fde725" stroke="#ffffff" stroke-width="0.67"/>
<circle cx="353.60" cy="252.50" r="4.17" fill="#fde725" stroke="#ffffff" stroke-width="0.67"/>
<circle cx="357.80" cy="252.50" r="4.17" fill="#fde725" stroke="#ffffff" stroke-width="0.67"/>
<circle cx="357.80" cy="252.50" r="4.17" fill="#fde725" stroke="#ffffff" stroke-width="0.67"/>
<circle cx="357.80" cy="252.50" r="4.17" fill="#fde725" stroke="#ffffff" stroke-width="0.67"/>
<circle cx="365.00" cy="252.50" r="4.17" fill="#fde725" stroke="#ffffff" stroke-width="0.67"/>
<circle cx="365.00" cy="252.50" r="4.17" fill="#fde725" stroke="#ffffff" stroke-width="0.67"/>
<circle cx="204.80" cy="272.75" r="4.17" fill="#fde725" stroke="#ffffff" stroke-width="0.67"/>
<circle cx="235.80" cy="272.75" r="4.17" fill="#fde725" stroke="#ffffff" stroke-width="0.67"/>
<circle cx="239.30" cy="272.75" r="4.17" fill="#fde725" stroke="#ffffff" stroke-width="0.67"/>
<circle cx="249.80" cy="272.75" r="4.17" fill="#fde725" stroke="#ffffff" stroke-width="0.67"/>
<circle cx="262.80" cy="272.75" r="4.17" fill="#fde725" stroke="#ffffff" stroke-width="0.67"/>
<circle cx="269.50" cy="272.75" r="4.17" fill="#fde725" stroke="#ffffff" stroke-width="0.67"/>
<circle cx="282.30" cy="272.75" r="4.17" fill="#fde725" stroke="#ffffff" stroke-width="0.67"/>
<circle cx="304.50" cy="272.75" r="4.17" fill="#fde725" stroke="#ffffff" stroke-width="0.67"/>
<circle cx="311.10" cy="272.75" r="4.17" fill="#fde725" stroke="#ffffff" stroke-width="0.67"/>
<circle cx="311.10" cy="272.75" r="4.17" fill="#fde725" stroke="#ffffff" stroke-width="0.67"/>
<circle cx="315.30" cy="272.75" r="4.17" fill="#fde725" stroke="#ffffff" stroke-width="0.67"/>
<circle cx="346.10" cy="272.75" r="4.17" fill="#fde725" stroke="#ffffff" stroke-width="0.67"/>
<circle cx="346.10" cy="272.75" r="4.17" fill="#fde725" stroke="#ffffff" stroke-width="0.67"/>
<circle cx="346.10" cy="272.75" r="4.17" fill="#fde725" stroke="#ffffff" stroke-width="0.67"/>
<circle cx="346.10" cy="272.75" r="4.17" fill="#fde725" stroke="#ffffff" stroke-width="0.67"/>
<circle cx="353.60" cy="272.75" r="4.17" fill="#fde725" stroke="#ffffff" stroke-width="0.67"/>
<circle cx="353.60" cy="272.75" r="4.17" fill="#fde725" stroke="#ffffff" stroke-width="0.67"/>
<circle cx="358.60" cy="272.75" r="4.17" fill="#fde725" stroke="#ffffff" stroke-width="0.67"/>
<circle cx="358.60" cy="272.75" r="4.17" fill="#fde725" stroke="#ffffff" stroke-width="0.67"/>
<circle cx="364.50" cy="272.75" r="4.17" fill="#fde725" stroke="#ffffff" stroke-width="0.67"/>
<circle cx="204.80" cy="293.00" r="4.17" fill="#fde725" stroke="#ffffff" stroke-width="0.67"/>
<circle cx="236.30" cy="293.00" r="4.17" fill="#fde725" stroke="#ffffff" stroke-width="0.67"/>
<circle cx="238.80" cy="293.00" r="4.17" fill="#fde725" stroke="#ffffff" stroke-width="0.67"/>
<circle cx="264.50" cy="293.00" r="4.17" fill="#fde725" stroke="#ffffff" stroke-width="0.67"/>
<circle cx="264.50" cy="293.00" r="4.17" fill="#fde725" stroke="#ffffff" stroke-width="0.67"/>
<circle cx="270.30" cy="293.00" r="4.17" fill="#fde725" stroke="#ffffff" stroke-width="0.67"/>
<circle cx="310.30" cy="293.00" r="4.17" fill="#fde725" stroke="#ffffff" stroke-width="0.67"/>
<circle cx="316.10" cy="293.00" r="4.17" fill="#fde725" stroke="#ffffff" stroke-width="0.67"/>
<circle cx="346.10" cy="293.00" r="4.17" fill="#fde725" stroke="#ffffff" stroke-width="0.67"/>
<circle cx="352.30" cy="293.00" r="4.17" fill="#fde725" stroke="#ffffff" stroke-width="0.67"/>
<circle cx="211.10" cy="313.25" r="4.17" fill="#fde725" stroke="#ffffff" stroke-width="0.67"/>
<circle cx="252.30" cy="313.25" r="4.17" fill="#fde725" stroke="#ffffff" stroke-width="0.67"/>
<circle cx="276.60" cy="313.25" r="4.17" fill="#fde725" stroke="#ffffff" stroke-width="0.67"/>
<circle cx="276.60" cy="313.25" r="4.17" fill="#fde725" stroke="#ffffff" stroke-width="0.67"/>
<circle cx="299.00" cy="313.25" r="4.17" fill="#fde725" stroke="#ffffff" stroke-width="0.67"/>
<circle cx="305.00" cy="313.25" r="4.17" fill="#fde725" stroke="#ffffff" stroke-width="0.67"/>
<circle cx="354.00" cy="313.25" r="4.17" fill="#fde725" stroke="#ffffff" stroke-width="0.67"/>
<circle cx="261.50" cy="333.50" r="4.17" fill="#fde725" stroke="#ffffff" stroke-width="0.67"/>
<circle cx="310.60" cy="333.50" r="4.17" fill="#fde725" stroke="#ffffff" stroke-width="0.67"/>
<circle cx="339.80" cy="333.50" r="4.17" fill="#fde725" stroke="#ffffff" stroke-width="0.67"/>
<circle cx="298.30" cy="353.75" r="4.17" fill="#fde725" stroke="#ffffff" stroke-width="0.67"/>
</g>
<line x1="66.50" y1="105.50" x2="66.50" y2="542.50" stroke="#000" stroke-width="1.111" stroke-linecap="square"/>
<line x1="66.50" y1="542.50" x2="496.50" y2="542.50" stroke="#000" stroke-width="1.111" stroke-linecap="square"/>
<line x1="66.50" y1="90.50" x2="496.50" y2="90.50" stroke="#000" stroke-width="1.111" stroke-linecap="square"/>
<line x1="511.50" y1="105.50" x2="511.50" y2="542.50" stroke="#000" stroke-width="1.111" stroke-linecap="square"/>
<line x1="156.50" y1="542.50" x2="156.50" y2="547.36" stroke="#000" stroke-width="1.111" stroke-linecap="butt"/>
<line x1="249.50" y1="542.50" x2="249.50" y2="547.36" stroke="#000" stroke-width="1.111" stroke-linecap="butt"/>
<line x1="342.50" y1="542.50" x2="342.50" y2="547.36" stroke="#000" stroke-width="1.111" stroke-linecap="butt"/>
<line x1="435.50" y1="542.50" x2="435.50" y2="547.36" stroke="#000" stroke-width="1.111" stroke-linecap="butt"/>
<line x1="61.64" y1="516.50" x2="66.50" y2="516.50" stroke="#000" stroke-width="1.111" stroke-linecap="butt"/>
<line x1="61.64" y1="465.50" x2="66.50" y2="465.50" stroke="#000" stroke-width="1.111" stroke-linecap="butt"/>
<line x1="61.64" y1="415.50" x2="66.50" y2="415.50" stroke="#000" stroke-width="1.111" stroke-linecap="butt"/>
<line x1="61.64" y1="364.50" x2="66.50" y2="364.50" stroke="#000" stroke-width="1.111" stroke-linecap="butt"/>
<line x1="61.64" y1="313.50" x2="66.50" y2="313.50" stroke="#000" stroke-width="1.111" stroke-linecap="butt"/>
<line x1="61.64" y1="263.50" x2="66.50" y2="263.50" stroke="#000" stroke-width="1.111" stroke-linecap="butt"/>
<line x1="61.64" y1="212.50" x2="66.50" y2="212.50" stroke="#000" stroke-width="1.111" stroke-linecap="butt"/>
<line x1="61.64" y1="162.50" x2="66.50" y2="162.50" stroke="#000" stroke-width="1.111" stroke-linecap="butt"/>
<line x1="61.64" y1="111.50" x2="66.50" y2="111.50" stroke="#000" stroke-width="1.111" stroke-linecap="butt"/>
<line x1="156.50" y1="90.50" x2="156.50" y2="95.36" stroke="#000" stroke-width="1.111" stroke-linecap="butt"/>
<line x1="249.50" y1="90.50" x2="249.50" y2="95.36" stroke="#000" stroke-width="1.111" stroke-linecap="butt"/>
<line x1="342.50" y1="90.50" x2="342.50" y2="95.36" stroke="#000" stroke-width="1.111" stroke-linecap="butt"/>
<line x1="435.50" y1="90.50" x2="435.50" y2="95.36" stroke="#000" stroke-width="1.111" stroke-linecap="butt"/>
<line x1="506.64" y1="516.50" x2="511.50" y2="516.50" stroke="#000" stroke-width="1.111" stroke-linecap="butt"/>
<line x1="506.64" y1="465.50" x2="511.50" y2="465.50" stroke="#000" stroke-width="1.111" stroke-linecap="butt"/>
<line x1="506.64" y1="415.50" x2="511.50" y2="415.50" stroke="#000" stroke-width="1.111" stroke-linecap="butt"/>
<line x1="506.64" y1="364.50" x2="511.50" y2="364.50" stroke="#000" stroke-width="1.111" stroke-linecap="butt"/>
<line x1="506.64" y1="313.50" x2="511.50" y2="313.50" stroke="#000" stroke-width="1.111" stroke-linecap="butt"/>
<line x1="506.64" y1="263.50" x2="511.50" y2="263.50" stroke="#000" stroke-width="1.111" stroke-linecap="butt"/>
<line x1="506.64" y1="212.50" x2="511.50" y2="212.50" stroke="#000" stroke-width="1.111" stroke-linecap="butt"/>
<line x1="506.64" y1="162.50" x2="511.50" y2="162.50" stroke="#000" stroke-width="1.111" stroke-linecap="butt"/>
<line x1="506.64" y1="111.50" x2="511.50" y2="111.50" stroke="#000" stroke-width="1.111" stroke-linecap="butt"/>
<rect x="417.90" y="112.24" width="71.24" height="67.00" rx="2.78" fill="#ffffff" fill-opacity="0.8" stroke="#cccccc" stroke-width="1.111"/>
<line x1="427.19" y1="144.88" x2="454.97" y2="144.88" stroke="#440154" stroke-width="2.08" stroke-linecap="square"/>
<line x1="427.19" y1="165.82" x2="454.97" y2="165.82" stroke="#fde725" stroke-width="2.08" stroke-linecap="square"/>
<text x="146.40" y="562.00" font-size="14.10" textLength="19.85" lengthAdjust="spacingAndGlyphs">0.0</text>
<text x="239.20" y="562.00" font-size="14.10" textLength="19.87" lengthAdjust="spacingAndGlyphs">0.5</text>
<text x="332.24" y="562.00" font-size="14.10" textLength="20.09" lengthAdjust="spacingAndGlyphs">1.0</text>
<text x="424.97" y="562.00" font-size="14.10" textLength="20.11" lengthAdjust="spacingAndGlyphs">1.5</text>
<text x="470.00" y="581.00" font-size="14.10" textLength="24.78" lengthAdjust="spacingAndGlyphs">1e6</text>
<text x="255.95" y="582.00" font-size="14.10" textLength="50.05" lengthAdjust="spacingAndGlyphs">longest</text>
<text x="8.91" y="521.00" font-size="14.10" textLength="47.05" lengthAdjust="spacingAndGlyphs">99.850</text>
<text x="9.16" y="471.00" font-size="14.10" textLength="46.48" lengthAdjust="spacingAndGlyphs">99.875</text>
<text x="8.98" y="420.00" font-size="14.10" textLength="47.20" lengthAdjust="spacingAndGlyphs">99.900</text>
<text x="8.66" y="370.00" font-size="14.10" textLength="47.10" lengthAdjust="spacingAndGlyphs">99.925</text>
<text x="8.60" y="319.00" font-size="14.10" textLength="47.61" lengthAdjust="spacingAndGlyphs">99.950</text>
<text x="9.00" y="268.00" font-size="14.10" textLength="46.71" lengthAdjust="spacingAndGlyphs">99.975</text>
<text x="-0.78" y="218.00" font-size="14.10" textLength="56.48" lengthAdjust="spacingAndGlyphs">100.000</text>
<text x="-0.81" y="167.00" font-size="14.10" textLength="55.77" lengthAdjust="spacingAndGlyphs">100.025</text>
<text x="-0.95" y="116.00" font-size="14.10" textLength="56.45" lengthAdjust="spacingAndGlyphs">100.050</text>
<text x="470.00" y="105.00" font-size="14.10" textLength="24.78" lengthAdjust="spacingAndGlyphs">1e6</text>
<text x="66.19" y="11.00" font-size="14.10" textLength="37.30" lengthAdjust="spacingAndGlyphs">1e−6</text>
<text x="467.36" y="150.00" font-size="14.10" textLength="11.43" lengthAdjust="spacingAndGlyphs">-1</text>
<text x="467.29" y="171.00" font-size="14.10" textLength="8.06" lengthAdjust="spacingAndGlyphs">1</text>
<text x="423.41" y="129.00" font-size="14.10" textLength="58.84" lengthAdjust="spacingAndGlyphs">anomaly</text>
</svg></body></html>
